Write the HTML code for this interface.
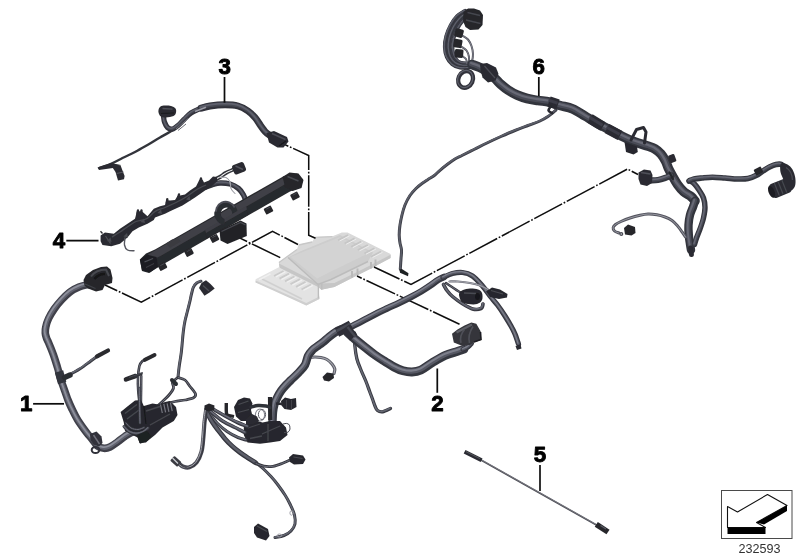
<!DOCTYPE html>
<html><head><meta charset="utf-8"><title>Wiring harness</title>
<style>
html,body{margin:0;padding:0;background:#fff;}
body{width:800px;height:560px;overflow:hidden;font-family:"Liberation Sans",sans-serif;}
svg{display:block;}
</style></head><body>
<svg width="800" height="560" viewBox="0 0 800 560">
<defs><filter id="soft" x="-5%" y="-5%" width="110%" height="110%"><feGaussianBlur stdDeviation="0.45"/></filter><filter id="soft2" x="-5%" y="-5%" width="110%" height="110%"><feGaussianBlur stdDeviation="0.3"/></filter></defs>
<rect width="800" height="560" fill="#fff"/>
<g id="ecu" filter="url(#soft)">
<path d="M255.6 279.2 L266.7 273.6 L278.8 267.3 L318.5 286.5 L319.4 299 L306.3 305.6 L287.5 296.3 L272.5 288.8 L255.6 282.5Z" fill="#e3e3e3"/>
<path d="M255.6 280.5 L306.3 303 L319.4 296.5 L319.4 299 L306.3 305.6 L255.6 282.5Z" fill="#cfcfcf"/>
<path d="M278.8 262.2 L297 249.3 L298.6 244.7 L312.2 241.7 L315.3 237.1 L332.5 236.3 L341.9 232.5 L347.5 232.5 L390.6 254 L390.6 258 L370 269 L355 276.6 L334.4 286.9 L321.3 289.7 L318.3 287 L279.6 267.8Z" fill="#d9d9d9"/>
<path d="M279 263.5 L318.3 283.5 L334.4 283 L355 273 L370 265.5 L390.6 254.8 L390.6 258 L370 269 L355 276.6 L334.4 286.9 L321.3 289.7 L318.3 287 L279.6 267.8Z" fill="#c6c6c6"/>
<path d="M288 257.6 L300 251.5 L340 235 L373 252.5 L368 261.5 L331 279.5 L318 284.5Z" fill="#cdcdcd"/>
<path d="M290.5 257 L340 237 L370 252.6 L330 272 L317 278.5Z" fill="#d3d3d3"/>
<path d="M288 257.600 L318 284.500 L331 279.500 L368 261.500" stroke="#bcbcbc" stroke-width="1.4" fill="none"/>
<path d="M283.5 271 l-9.500 5" stroke="#cbcbcb" stroke-width="1.9" fill="none"/>
<path d="M285.4 271.9 l-9.500 5" stroke="#f0f0f0" stroke-width="1.2" fill="none"/>
<path d="M289 273.7 l-9.500 5" stroke="#cbcbcb" stroke-width="1.9" fill="none"/>
<path d="M290.9 274.6 l-9.500 5" stroke="#f0f0f0" stroke-width="1.2" fill="none"/>
<path d="M294.5 276.4 l-9.500 5" stroke="#cbcbcb" stroke-width="1.9" fill="none"/>
<path d="M296.4 277.3 l-9.500 5" stroke="#f0f0f0" stroke-width="1.2" fill="none"/>
<path d="M300 279.1 l-9.500 5" stroke="#cbcbcb" stroke-width="1.9" fill="none"/>
<path d="M301.9 280.1 l-9.500 5" stroke="#f0f0f0" stroke-width="1.2" fill="none"/>
<path d="M305.5 281.8 l-9.500 5" stroke="#cbcbcb" stroke-width="1.9" fill="none"/>
<path d="M307.4 282.8 l-9.500 5" stroke="#f0f0f0" stroke-width="1.2" fill="none"/>
<path d="M311 284.5 l-9.500 5" stroke="#cbcbcb" stroke-width="1.9" fill="none"/>
<path d="M312.9 285.4 l-9.500 5" stroke="#f0f0f0" stroke-width="1.2" fill="none"/>
<path d="M262 279 L302 299" stroke="#d0d0d0" stroke-width="1.500" fill="none"/>
<path d="M259 279.800 L270.500 273.800" stroke="#f0f0f0" stroke-width="1.500" fill="none"/>
<path d="M348 235 l-10 5.200" stroke="#c6c6c6" stroke-width="1.7" fill="none"/>
<path d="M349.6 235.8 l-10 5.200" stroke="#ececec" stroke-width="1" fill="none"/>
<path d="M354.6 238.3 l-10 5.200" stroke="#c6c6c6" stroke-width="1.7" fill="none"/>
<path d="M356.2 239.1 l-10 5.200" stroke="#ececec" stroke-width="1" fill="none"/>
<path d="M361.2 241.6 l-10 5.200" stroke="#c6c6c6" stroke-width="1.7" fill="none"/>
<path d="M362.8 242.4 l-10 5.200" stroke="#ececec" stroke-width="1" fill="none"/>
<path d="M367.8 244.9 l-10 5.200" stroke="#c6c6c6" stroke-width="1.7" fill="none"/>
<path d="M369.4 245.7 l-10 5.200" stroke="#ececec" stroke-width="1" fill="none"/>
<path d="M374.4 248.2 l-10 5.200" stroke="#c6c6c6" stroke-width="1.7" fill="none"/>
<path d="M376 249 l-10 5.200" stroke="#ececec" stroke-width="1" fill="none"/>
<path d="M381 251.5 l-10 5.200" stroke="#c6c6c6" stroke-width="1.7" fill="none"/>
<path d="M382.6 252.3 l-10 5.200" stroke="#ececec" stroke-width="1" fill="none"/>
<path d="M279 262.500 L297 249.500 M298.600 245 L312.200 242 M315.300 237.400 L332.500 236.600" stroke="#c8c8c8" stroke-width="1.3" fill="none"/>
<path d="M352 271 L352 277.500 M357.500 268.500 L357.500 275 M371 262 L371 268.500 M375.500 259.500 L375.500 266" stroke="#b9b9b9" stroke-width="1.900" fill="none"/>
<path d="M318.400 283.500 L318.400 298.500 M321.800 283 L321.800 289.500" stroke="#bdbdbd" stroke-width="1.400" fill="none"/>
</g>
<g id="dash" filter="url(#soft2)">
<path d="M284.4 144.4 L308.7 155.6 L308.7 235.2 L315.5 238.2" fill="none" stroke="#0c0c0c" stroke-width="1.5" stroke-dasharray="31.5 1.8 1.7 1.8" stroke-dashoffset="27.2" stroke-linejoin="miter"/>
<path d="M236.3 236.3 L281 258" fill="none" stroke="#0c0c0c" stroke-width="1.5" stroke-dasharray="31.5 1.8 1.7 1.8" stroke-dashoffset="19.5" stroke-linejoin="miter"/>
<path d="M105 285 L141.3 302.2 L272.5 231.3 L298 244.5" fill="none" stroke="#0c0c0c" stroke-width="1.5" stroke-dasharray="31.5 1.8 1.7 1.8" stroke-dashoffset="18" stroke-linejoin="miter"/>
<path d="M374 267 L411 284.4 L627.5 169 L638 174.5" fill="none" stroke="#0c0c0c" stroke-width="1.5" stroke-dasharray="31.5 1.8 1.7 1.8" stroke-dashoffset="3.4" stroke-linejoin="miter"/>
<path d="M357 276 L459.5 324.2" fill="none" stroke="#0c0c0c" stroke-width="1.5" stroke-dasharray="31.5 1.8 1.7 1.8" stroke-dashoffset="26.3" stroke-linejoin="miter"/>
</g>
<g id="h3" filter="url(#soft)">
<path d="M172.5 130.5 C170.4 131.7 164.2 135.1 160 137.5 C155.8 139.9 151.7 142.6 147.5 145 C143.3 147.4 139.2 149.8 135 152 C130.8 154.2 126.5 156 122.5 158 C118.5 160 114.8 162.1 111 163.8 C107.2 165.5 101.4 167.3 99.5 168" fill="none" stroke="#33343b" stroke-width="2.4" stroke-linecap="round" stroke-linejoin="round"/>
<path d="M97.5 167.5 L111 163 L121 165 L113 168 L99 170Z" fill="#2b2c31"/>
<path d="M111.5 166 L120.5 165.3 L124.6 176 L124 179.2 L118 180.6 L115.5 172Z" fill="#2b2c31"/>
<path d="M116.5 173.500 L123.500 172" stroke="#5a5b64" stroke-width="0.9"/>
<path d="M163.5 116 C163.7 117 163.8 120.1 164.5 122 C165.2 123.9 166.2 126.3 167.5 127.5 C168.8 128.7 170.8 129.3 172.5 129 C174.2 128.7 176.1 127.1 178 125.5 C179.9 123.9 181.8 121.6 184 119.5 C186.2 117.4 188.3 114.8 191 113 C193.7 111.2 197.8 109.5 200 108.5 C202.2 107.5 203.3 107.5 204 107.3" fill="none" stroke="#30313a" stroke-width="5.2" stroke-linecap="round" stroke-linejoin="round"/>
<path d="M163.5 116 C163.7 117 163.8 120.1 164.5 122 C165.2 123.9 166.2 126.3 167.5 127.5 C168.8 128.7 170.8 129.3 172.5 129 C174.2 128.7 176.1 127.1 178 125.5 C179.9 123.9 181.8 121.6 184 119.5 C186.2 117.4 188.3 114.8 191 113 C193.7 111.2 197.8 109.5 200 108.5 C202.2 107.5 203.3 107.5 204 107.3" fill="none" stroke="#454751" stroke-width="2.9" stroke-linecap="round" stroke-linejoin="round" transform="translate(-0.2,-0.4)"/>
<path d="M163.5 116 C163.7 117 163.8 120.1 164.5 122 C165.2 123.9 166.2 126.3 167.5 127.5 C168.8 128.7 170.8 129.3 172.5 129 C174.2 128.7 176.1 127.1 178 125.5 C179.9 123.9 181.8 121.6 184 119.5 C186.2 117.4 188.3 114.8 191 113 C193.7 111.2 197.8 109.5 200 108.5 C202.2 107.5 203.3 107.5 204 107.3" fill="none" stroke="#5f616d" stroke-width="1.2" stroke-linecap="round" stroke-linejoin="round" transform="translate(-0.5,-0.8)"/>
<path d="M201 108.2 C202.5 107.8 206 106.6 210 106 C214 105.4 220.3 104.8 225 104.8 C229.7 104.8 234.2 105 238 106 C241.8 107 245.2 109.1 248 111 C250.8 112.9 252.9 115.1 255 117.5 C257.1 119.9 258.8 123.1 260.5 125.5 C262.2 127.9 263.9 130.3 265.5 132 C267.1 133.7 269.2 134.9 270 135.5" fill="none" stroke="#30313a" stroke-width="6.9" stroke-linecap="round" stroke-linejoin="round"/>
<path d="M201 108.2 C202.5 107.8 206 106.6 210 106 C214 105.4 220.3 104.8 225 104.8 C229.7 104.8 234.2 105 238 106 C241.8 107 245.2 109.1 248 111 C250.8 112.9 252.9 115.1 255 117.5 C257.1 119.9 258.8 123.1 260.5 125.5 C262.2 127.9 263.9 130.3 265.5 132 C267.1 133.7 269.2 134.9 270 135.5" fill="none" stroke="#454751" stroke-width="3.9" stroke-linecap="round" stroke-linejoin="round" transform="translate(-0.3,-0.6)"/>
<path d="M201 108.2 C202.5 107.8 206 106.6 210 106 C214 105.4 220.3 104.8 225 104.8 C229.7 104.8 234.2 105 238 106 C241.8 107 245.2 109.1 248 111 C250.8 112.9 252.9 115.1 255 117.5 C257.1 119.9 258.8 123.1 260.5 125.5 C262.2 127.9 263.9 130.3 265.5 132 C267.1 133.7 269.2 134.9 270 135.5" fill="none" stroke="#5f616d" stroke-width="1.7" stroke-linecap="round" stroke-linejoin="round" transform="translate(-0.7,-1.1)"/>
<path d="M195 111.500 L206 107.2" stroke="#9a9ba5" stroke-width="1.5" fill="none"/>
<path d="M176 129 L188 118.500" stroke="#7a7b85" stroke-width="0.9" fill="none"/>
<path d="M178 130.500 L186 124" stroke="#5c5d66" stroke-width="0.9" fill="none"/>
<path d="M158.5 110 C158.8 108.8 159.4 107.2 160.5 106.5 C161.6 105.8 163.2 105.6 165 105.5 C166.8 105.4 169.2 105.5 171 106 C172.8 106.5 174.7 107.4 175.5 108.5 C176.3 109.6 176.3 111.2 176 112.5 C175.7 113.8 175.2 115.2 173.5 116 C171.8 116.8 168.1 117.4 166 117.5 C163.9 117.6 162.2 117.2 161 116.5 C159.8 115.8 159.2 114.6 158.8 113.5 C158.4 112.4 158.2 111.2 158.5 110Z" fill="#2a2b30"/>
<path d="M162.500 108.500 L172.500 109.200" stroke="#4f5059" stroke-width="1.3"/>
<path d="M161 113.500 L174 113" stroke="#1b1c20" stroke-width="1.2"/>
<path d="M266.5 133 L274 131 L287 137 L288.5 141.5 L283.5 147.5 L277.5 147.5 L269 142.5Z" fill="#2b2c32"/>
<path d="M272 133.500 L285.500 139.500" stroke="#4d4e57" stroke-width="1.4"/>
<path d="M279 146 L286 141" stroke="#17181b" stroke-width="1.4"/>
</g>
<g id="h4" filter="url(#soft)">
<path d="M233 168.5 C231.7 169.1 227.2 170.8 225 172 C222.8 173.2 221.8 174.4 220 175.5 C218.2 176.6 215 178 214 178.5" fill="none" stroke="#33343a" stroke-width="1.5" stroke-linecap="round" stroke-linejoin="round"/>
<path d="M234 170.5 C232.8 171.1 228.6 172.8 226.5 174 C224.4 175.2 223.2 176.4 221.5 177.5 C219.8 178.6 216.9 180 216 180.5" fill="none" stroke="#33343a" stroke-width="1.5" stroke-linecap="round" stroke-linejoin="round"/>
<rect x="232.8" y="163.3" width="12.5" height="10" rx="2.4" fill="#2a2b30" transform="rotate(-22 239 168.3)"/>
<path d="M235.500 166 L243 169.500" stroke="#52535c" stroke-width="1.4"/>
<path d="M206 187 C207.2 186.6 210.7 185.2 213 184.5 C215.3 183.8 217.2 183.1 220 183 C222.8 182.9 226.9 183.1 230 184 C233.1 184.9 236.2 186.7 238.5 188.5 C240.8 190.3 242.2 192.8 243.5 195 C244.8 197.2 245.8 200.8 246.3 202" fill="none" stroke="#30313a" stroke-width="5.4" stroke-linecap="round" stroke-linejoin="round"/>
<path d="M206 187 C207.2 186.6 210.7 185.2 213 184.5 C215.3 183.8 217.2 183.1 220 183 C222.8 182.9 226.9 183.1 230 184 C233.1 184.9 236.2 186.7 238.5 188.5 C240.8 190.3 242.2 192.8 243.5 195 C244.8 197.2 245.8 200.8 246.3 202" fill="none" stroke="#454751" stroke-width="3" stroke-linecap="round" stroke-linejoin="round" transform="translate(-0.3,-0.4)"/>
<path d="M206 187 C207.2 186.6 210.7 185.2 213 184.5 C215.3 183.8 217.2 183.1 220 183 C222.8 182.9 226.9 183.1 230 184 C233.1 184.9 236.2 186.7 238.5 188.5 C240.8 190.3 242.2 192.8 243.5 195 C244.8 197.2 245.8 200.8 246.3 202" fill="none" stroke="#5f616d" stroke-width="1.3" stroke-linecap="round" stroke-linejoin="round" transform="translate(-0.5,-0.9)"/>
<path d="M220 177.5 C221 177.5 224.3 176.8 226 177.5 C227.7 178.2 229.2 180.2 230 182 C230.8 183.8 230.2 186.6 231 188.5 C231.8 190.4 234.3 192.7 235 193.5" fill="none" stroke="#c9cad0" stroke-width="1.1" stroke-linecap="round" stroke-linejoin="round"/>
<path d="M220 177.5 C221 177.5 224.3 176.8 226 177.5 C227.7 178.2 229.2 180.2 230 182 C230.8 183.8 230.2 186.6 231 188.5 C231.8 190.4 234.3 192.7 235 193.5" fill="none" stroke="#6d6e77" stroke-width="0.5" stroke-linecap="round" stroke-linejoin="round"/>
<path d="M100.6 235.6 L105 232.5 L113.8 233.8 L120 228.8 L127.5 223.8 L135 218.8 L136.9 211.3 L141.9 211.3 L147.5 216.3 L153.8 208.8 L160 206.3 L165 205 L166.3 200 L170 200.6 L175 200 L177.5 196 L185 194.5 L190 190.5 L196 186.5 L199.5 179.5 L202.5 179.5 L204 182.5 L209 180.5 L213 176.5 L217 177 L217.5 181 L212 186 L205 190.5 L195 197.5 L182.5 205.5 L170 211.3 L165 213.8 L155 217.5 L153.8 220 L147.5 223.8 L138.8 227.5 L132.5 231.3 L127.5 237.5 L120 243.8 L111.3 246.3 L102.5 245 L100.6 241.3Z" fill="#2b2c31"/>
<path d="M112 237 C113.3 236.2 117.3 233.8 120 232 C122.7 230.2 125.3 228.2 128 226.5 C130.7 224.8 132.8 222.8 136 221.5 C139.2 220.2 143.8 220.2 147 218.5 C150.2 216.8 152 213.3 155 211.5 C158 209.7 161.5 209 165 207.5 C168.5 206 172.5 204.2 176 202.5 C179.5 200.8 182.7 199.1 186 197 C189.3 194.9 192.7 192 196 190 C199.3 188 204.3 185.8 206 185" fill="none" stroke="#494a52" stroke-width="1.3" stroke-linecap="butt" stroke-linejoin="round"/>
<path d="M105.500 236 L110.500 243.500" stroke="#4e4f57" stroke-width="1.1"/>
<path d="M102.500 233.500 L100.500 231.200" stroke="#2b2c31" stroke-width="1.3"/>
<path d="M137.5 214 L138 210.5" stroke="#2b2c31" stroke-width="2.4" stroke-linecap="round"/>
<path d="M141 214 L141.5 210.5" stroke="#2b2c31" stroke-width="2.4" stroke-linecap="round"/>
<path d="M166.8 203 L167.3 199.2" stroke="#2b2c31" stroke-width="2.4" stroke-linecap="round"/>
<path d="M178 198 L179 194.5" stroke="#2b2c31" stroke-width="2.4" stroke-linecap="round"/>
<path d="M200.5 183 L201 178.5" stroke="#2b2c31" stroke-width="2.4" stroke-linecap="round"/>
<path d="M107 241 l3.500 -3.500 l1 4.500 z" fill="#484951"/>
<path d="M123.5 236.5 l3.500 -3.500 l1 4.500 z" fill="#484951"/>
<path d="M140.5 222 l3.500 -3.500 l1 4.500 z" fill="#484951"/>
<path d="M157.5 213 l3.500 -3.500 l1 4.500 z" fill="#484951"/>
<path d="M186 199.5 l3.500 -3.500 l1 4.500 z" fill="#484951"/>
<path d="M125 238 C124.9 239.2 124.1 243 124.5 245 C124.9 247 125.9 249 127.5 250 C129.1 251 132.9 250.7 134 250.8" fill="none" stroke="#55565f" stroke-width="1.4" stroke-linecap="round" stroke-linejoin="round"/>
<path d="M139.8 259.5 L146 253.5 L155 249.5 L284 176 L297 173.5 L303 179.5 L301 187.5 L290 191.5 L161 265.5 L149 273 L142 271Z" fill="#28292d"/>
<path d="M148 254.5 L156 250 L284 177.5 L294 179 L160 256.2 L152 260Z" fill="#404147"/>
<path d="M140 260 L146.5 254.5 L156.5 257 L158 266.5 L150 272.5 L142 270.5Z" fill="#1e1f23"/>
<path d="M144.500 262 L153 258.500" stroke="#50515a" stroke-width="1.3"/>
<path d="M146 267.500 L154 263.500" stroke="#3d3e45" stroke-width="1"/>
<path d="M166 243.5 L172 239.5 L178.5 238.5 L181 241.5 L170 248Z" fill="#3a3b41"/>
<path d="M282.5 177 L289.5 172.5 L298.5 173.5 L303.5 180 L301.5 188 L292.5 191 L285 186.5Z" fill="#25262a"/>
<path d="M287.500 176.500 L298.500 181" stroke="#4a4b52" stroke-width="1.4"/>
<rect x="158.5" y="263.2" width="8" height="6.5" rx="1" fill="#26272b" transform="rotate(-28 162.5 266.5)"/>
<path d="M160.3 265.7 l4 -2.200" stroke="#4a4b52" stroke-width="0.9"/>
<rect x="185" y="249.2" width="8" height="6.5" rx="1" fill="#26272b" transform="rotate(-28 189 252.5)"/>
<path d="M186.8 251.7 l4 -2.200" stroke="#4a4b52" stroke-width="0.9"/>
<rect x="210.5" y="235.2" width="8" height="6.5" rx="1" fill="#26272b" transform="rotate(-28 214.5 238.5)"/>
<path d="M212.3 237.7 l4 -2.200" stroke="#4a4b52" stroke-width="0.9"/>
<rect x="264.5" y="206.8" width="8" height="6.5" rx="1" fill="#26272b" transform="rotate(-28 268.5 210)"/>
<path d="M266.3 209.2 l4 -2.200" stroke="#4a4b52" stroke-width="0.9"/>
<rect x="291" y="192.8" width="8" height="6.5" rx="1" fill="#26272b" transform="rotate(-28 295 196)"/>
<path d="M292.8 195.2 l4 -2.200" stroke="#4a4b52" stroke-width="0.9"/>
<ellipse cx="226.5" cy="213.5" rx="8.500" ry="8.800" fill="none" stroke="#2c2d33" stroke-width="5.6"/>
<path d="M216.800 215.500 A9.500 9.500 0 0 1 234.500 207.500" fill="none" stroke="#4c4d56" stroke-width="1.8"/>
<path d="M205 231.5 L246 208 L248 215 L207 238.5Z" fill="#28292d"/>
<path d="M205 229.5 L246 206 L247 209.5 L206 233Z" fill="#3d3e44"/>
<path d="M217.200 212 A8.500 8.800 0 0 0 224.500 222.200" fill="none" stroke="#2c2d33" stroke-width="5.6"/>
<path d="M219.5 230.5 L240.5 220.5 L246.5 223.5 L246.8 236 L227.5 244 L220.5 240.5Z" fill="#232428"/>
<path d="M221.500 231.500 L240.500 222.500 L245.500 225" stroke="#47484f" stroke-width="1.3" fill="none"/>
</g>
<g id="h1" filter="url(#soft)">
<path d="M201 281.2 C200.2 281.5 197.8 282.1 196.5 283.2 C195.2 284.2 194.1 285.7 193.3 287.5 C192.5 289.3 192.1 291.8 191.5 294 C190.9 296.2 190.7 298.2 190 301 C189.3 303.8 188.3 307.7 187.5 311 C186.7 314.3 185.7 317.7 185 321 C184.3 324.3 183.8 327.8 183.4 331 C183 334.2 182.8 336.4 182.5 340 C182.2 343.6 181.8 348.3 181.3 352.5 C180.8 356.7 180 360.8 179.4 365 C178.8 369.2 178.2 375.4 178 377.5" fill="none" stroke="#34353d" stroke-width="3" stroke-linecap="round" stroke-linejoin="round"/>
<path d="M201 281.2 C200.2 281.5 197.8 282.1 196.5 283.2 C195.2 284.2 194.1 285.7 193.3 287.5 C192.5 289.3 192.1 291.8 191.5 294 C190.9 296.2 190.7 298.2 190 301 C189.3 303.8 188.3 307.7 187.5 311 C186.7 314.3 185.7 317.7 185 321 C184.3 324.3 183.8 327.8 183.4 331 C183 334.2 182.8 336.4 182.5 340 C182.2 343.6 181.8 348.3 181.3 352.5 C180.8 356.7 180 360.8 179.4 365 C178.8 369.2 178.2 375.4 178 377.5" fill="none" stroke="#565863" stroke-width="1.7" stroke-linecap="round" stroke-linejoin="round" transform="translate(-0.1,-0.2)"/>
<path d="M201 281.2 C200.2 281.5 197.8 282.1 196.5 283.2 C195.2 284.2 194.1 285.7 193.3 287.5 C192.5 289.3 192.1 291.8 191.5 294 C190.9 296.2 190.7 298.2 190 301 C189.3 303.8 188.3 307.7 187.5 311 C186.7 314.3 185.7 317.7 185 321 C184.3 324.3 183.8 327.8 183.4 331 C183 334.2 182.8 336.4 182.5 340 C182.2 343.6 181.8 348.3 181.3 352.5 C180.8 356.7 180 360.8 179.4 365 C178.8 369.2 178.2 375.4 178 377.5" fill="none" stroke="#70727e" stroke-width="0.7" stroke-linecap="round" stroke-linejoin="round" transform="translate(-0.3,-0.5)"/>
<path d="M199 288 L201.5 283 L206 280.3 L210.5 284 L214.7 288.5 L209.5 292.5 L204.5 295.7Z" fill="#2b2c31"/>
<path d="M203 285.500 L209 291" stroke="#4e4f58" stroke-width="1.1"/>
<path d="M178 377.5 C179.2 377.9 183 378.5 185 380 C187 381.5 188.2 384.2 190 386.5 C191.8 388.8 194.9 392.1 195.5 394 C196.1 395.9 195.2 396.8 193.5 397.8 C191.8 398.8 188.1 399.4 185 400 C181.9 400.6 177.8 400.9 175 401.5 C172.2 402.1 169.2 403.2 168 403.5" fill="none" stroke="#34353d" stroke-width="2.8" stroke-linecap="round" stroke-linejoin="round"/>
<path d="M178 377.5 C179.2 377.9 183 378.5 185 380 C187 381.5 188.2 384.2 190 386.5 C191.8 388.8 194.9 392.1 195.5 394 C196.1 395.9 195.2 396.8 193.5 397.8 C191.8 398.8 188.1 399.4 185 400 C181.9 400.6 177.8 400.9 175 401.5 C172.2 402.1 169.2 403.2 168 403.5" fill="none" stroke="#70727e" stroke-width="1" stroke-linecap="round" stroke-linejoin="round"/>
<path d="M176.5 378.5 C175.8 379.2 173 380.9 172.5 382.5 C172 384.1 174.1 385.9 173.5 388 C172.9 390.1 170.8 392.8 169 395 C167.2 397.2 164.5 399.6 162.5 401.5 C160.5 403.4 157.9 405.7 157 406.5" fill="none" stroke="#34353d" stroke-width="2.8" stroke-linecap="round" stroke-linejoin="round"/>
<path d="M176.5 378.5 C175.8 379.2 173 380.9 172.5 382.5 C172 384.1 174.1 385.9 173.5 388 C172.9 390.1 170.8 392.8 169 395 C167.2 397.2 164.5 399.6 162.5 401.5 C160.5 403.4 157.9 405.7 157 406.5" fill="none" stroke="#70727e" stroke-width="1" stroke-linecap="round" stroke-linejoin="round"/>
<path d="M172 380 L176 384" fill="none" stroke="#2c2d33" stroke-width="4" stroke-linecap="round" stroke-linejoin="round"/>
<path d="M139.5 403 C139.3 400.8 138.4 394.2 138.2 390 C137.9 385.8 137.8 381.5 138 377.5 C138.2 373.5 138.7 368.8 139.4 366 C140.2 363.2 141.2 362.2 142.5 361 C143.8 359.8 146.2 358.9 147 358.5" fill="none" stroke="#34353d" stroke-width="2.6" stroke-linecap="round" stroke-linejoin="round"/>
<path d="M139.5 403 C139.3 400.8 138.4 394.2 138.2 390 C137.9 385.8 137.8 381.5 138 377.5 C138.2 373.5 138.7 368.8 139.4 366 C140.2 363.2 141.2 362.2 142.5 361 C143.8 359.8 146.2 358.9 147 358.5" fill="none" stroke="#70727e" stroke-width="0.9" stroke-linecap="round" stroke-linejoin="round"/>
<path d="M145 359.8 L154.5 355" fill="none" stroke="#292a2f" stroke-width="4" stroke-linecap="round" stroke-linejoin="round"/>
<path d="M141.3 420 C141.2 417.2 141 408.3 141 403 C141 397.7 141.1 392.5 141.2 388 C141.2 383.5 141.3 378 141.3 376" fill="none" stroke="#34353d" stroke-width="2.4" stroke-linecap="round" stroke-linejoin="round"/>
<path d="M141.3 420 C141.2 417.2 141 408.3 141 403 C141 397.7 141.1 392.5 141.2 388 C141.2 383.5 141.3 378 141.3 376" fill="none" stroke="#70727e" stroke-width="0.9" stroke-linecap="round" stroke-linejoin="round"/>
<path d="M126 379.4 L135.5 376" fill="none" stroke="#292a2f" stroke-width="4.6" stroke-linecap="round" stroke-linejoin="round"/>
<path d="M135 376.2 L141.5 373.8" fill="none" stroke="#33343b" stroke-width="2.6" stroke-linecap="round" stroke-linejoin="round"/>
<path d="M129 377.500 L143 372.500" stroke="#4a4b53" stroke-width="0.9"/>
<path d="M88 284.5 C86.5 284.9 82 285.8 79 287 C76 288.2 72.9 289.8 70 292 C67.1 294.2 64.1 297.2 61.5 300 C58.9 302.8 56.4 305.9 54.2 309 C52.1 312.1 50 315.5 48.6 318.5 C47.2 321.5 46.3 324.6 45.8 327 C45.2 329.4 45.2 331.2 45.3 333 C45.4 334.8 46 336.4 46.5 338 C47 339.6 47.3 339.7 48.5 342.5 C49.7 345.3 52 350.8 53.5 355 C55 359.2 56.2 363.3 57.5 367.5 C58.8 371.7 59.8 376.1 61 380 C62.2 383.9 63.6 387.7 64.8 391 C66 394.3 66.9 397.2 68 400 C69.1 402.8 69.9 404.7 71.5 408 C73.1 411.3 75.2 415.9 77.7 420 C80.2 424.1 84.1 429.3 86.5 432.5 C88.9 435.7 90.2 436.8 92 439 C93.8 441.2 95.5 444.4 97.5 446 C99.5 447.6 101.7 448.1 103.8 448.3 C105.9 448.5 107.7 448.1 110 447 C112.3 445.9 115 443.8 117.5 442 C120 440.2 122.8 437.8 125 436.3 C127.2 434.8 128.8 433.7 131 432.8 C133.2 431.9 135.7 431.3 138 431 C140.3 430.7 143.8 431 145 431" fill="none" stroke="#3f404a" stroke-width="7.6" stroke-linecap="round" stroke-linejoin="round"/>
<path d="M88 284.5 C86.5 284.9 82 285.8 79 287 C76 288.2 72.9 289.8 70 292 C67.1 294.2 64.1 297.2 61.5 300 C58.9 302.8 56.4 305.9 54.2 309 C52.1 312.1 50 315.5 48.6 318.5 C47.2 321.5 46.3 324.6 45.8 327 C45.2 329.4 45.2 331.2 45.3 333 C45.4 334.8 46 336.4 46.5 338 C47 339.6 47.3 339.7 48.5 342.5 C49.7 345.3 52 350.8 53.5 355 C55 359.2 56.2 363.3 57.5 367.5 C58.8 371.7 59.8 376.1 61 380 C62.2 383.9 63.6 387.7 64.8 391 C66 394.3 66.9 397.2 68 400 C69.1 402.8 69.9 404.7 71.5 408 C73.1 411.3 75.2 415.9 77.7 420 C80.2 424.1 84.1 429.3 86.5 432.5 C88.9 435.7 90.2 436.8 92 439 C93.8 441.2 95.5 444.4 97.5 446 C99.5 447.6 101.7 448.1 103.8 448.3 C105.9 448.5 107.7 448.1 110 447 C112.3 445.9 115 443.8 117.5 442 C120 440.2 122.8 437.8 125 436.3 C127.2 434.8 128.8 433.7 131 432.8 C133.2 431.9 135.7 431.3 138 431 C140.3 430.7 143.8 431 145 431" fill="none" stroke="#60626e" stroke-width="4.3" stroke-linecap="round" stroke-linejoin="round" transform="translate(-0.4,-0.6)"/>
<path d="M88 284.5 C86.5 284.9 82 285.8 79 287 C76 288.2 72.9 289.8 70 292 C67.1 294.2 64.1 297.2 61.5 300 C58.9 302.8 56.4 305.9 54.2 309 C52.1 312.1 50 315.5 48.6 318.5 C47.2 321.5 46.3 324.6 45.8 327 C45.2 329.4 45.2 331.2 45.3 333 C45.4 334.8 46 336.4 46.5 338 C47 339.6 47.3 339.7 48.5 342.5 C49.7 345.3 52 350.8 53.5 355 C55 359.2 56.2 363.3 57.5 367.5 C58.8 371.7 59.8 376.1 61 380 C62.2 383.9 63.6 387.7 64.8 391 C66 394.3 66.9 397.2 68 400 C69.1 402.8 69.9 404.7 71.5 408 C73.1 411.3 75.2 415.9 77.7 420 C80.2 424.1 84.1 429.3 86.5 432.5 C88.9 435.7 90.2 436.8 92 439 C93.8 441.2 95.5 444.4 97.5 446 C99.5 447.6 101.7 448.1 103.8 448.3 C105.9 448.5 107.7 448.1 110 447 C112.3 445.9 115 443.8 117.5 442 C120 440.2 122.8 437.8 125 436.3 C127.2 434.8 128.8 433.7 131 432.8 C133.2 431.9 135.7 431.3 138 431 C140.3 430.7 143.8 431 145 431" fill="none" stroke="#8d8f9b" stroke-width="1.8" stroke-linecap="round" stroke-linejoin="round" transform="translate(-0.7,-1.2)"/>
<path d="M59 371.5 L62.2 383" fill="none" stroke="#33343c" stroke-width="8.6" stroke-linecap="butt" stroke-linejoin="round"/>
<path d="M66 377 C66.9 376.5 69 375.2 71.3 373.8 C73.6 372.4 77.1 370.7 80 368.8 C82.9 366.9 86.1 364.5 88.8 362.5 C91.5 360.5 94.4 358.3 96.3 357 C98.2 355.7 99.4 354.9 100 354.5" fill="none" stroke="#34353d" stroke-width="3" stroke-linecap="round" stroke-linejoin="round"/>
<path d="M66 377 C66.9 376.5 69 375.2 71.3 373.8 C73.6 372.4 77.1 370.7 80 368.8 C82.9 366.9 86.1 364.5 88.8 362.5 C91.5 360.5 94.4 358.3 96.3 357 C98.2 355.7 99.4 354.9 100 354.5" fill="none" stroke="#565863" stroke-width="1.7" stroke-linecap="round" stroke-linejoin="round" transform="translate(-0.1,-0.2)"/>
<path d="M66 377 C66.9 376.5 69 375.2 71.3 373.8 C73.6 372.4 77.1 370.7 80 368.8 C82.9 366.9 86.1 364.5 88.8 362.5 C91.5 360.5 94.4 358.3 96.3 357 C98.2 355.7 99.4 354.9 100 354.5" fill="none" stroke="#70727e" stroke-width="0.7" stroke-linecap="round" stroke-linejoin="round" transform="translate(-0.3,-0.5)"/>
<path d="M97 356.3 L108 350.5" fill="none" stroke="#292a2f" stroke-width="4.2" stroke-linecap="round" stroke-linejoin="round"/>
<path d="M64.5 377.5 L70 375" fill="none" stroke="#2c2d33" stroke-width="5.4" stroke-linecap="round" stroke-linejoin="round"/>
<path d="M90 434 L96.5 431.5 L101.5 436.5 L102.5 443 L99 446.5 L93.5 444.5 L90.5 440Z" fill="#30313a"/>
<ellipse cx="95.500" cy="450" rx="3.800" ry="3" fill="none" stroke="#30313a" stroke-width="2"/>
<path d="M93.500 435 L99.500 444" stroke="#6f707a" stroke-width="1.5"/>
<path d="M83.5 280 L86 275 L93 270 L101 267 L107 266.5 L110.5 269.5 L112.5 278 L112 283 L105 285 L102.5 290 L96 291.5 L88 288.5 L84.5 285.5Z" fill="#26272c"/>
<path d="M91 276.500 Q96 269.500 106 269.500 L109 276" fill="none" stroke="#47484f" stroke-width="2"/>
<path d="M94.5 279 Q99 273.500 105 274" fill="none" stroke="#141518" stroke-width="2.6"/>
<path d="M85 284 L95.500 288.500" stroke="#3f4047" stroke-width="1.2"/>
<path d="M120.6 412 L128 406 L135 400.6 L141 400 L143.8 406 L152.5 403.5 L158.8 404.5 L165 402 L170 401 L176 407 L177.5 415 L173.8 421 L162.5 427.5 L155 435 L147.5 441 L140 443.8 L137.5 437.5 L125 431 L123.8 422.5Z" fill="#27282d"/>
<path d="M125 413.500 L137 404.500 M127 419 L139 410 M146 411 L160 406.500 M150 425 L170 414" stroke="#45464e" stroke-width="1.4" fill="none"/>
<path d="M143.800 406 L146 424" stroke="#17181b" stroke-width="1.2" fill="none"/>
<path d="M124 426.5 C124.8 427.3 127 430.3 129 431.5 C131 432.7 133.7 433.4 136 433.5 C138.3 433.6 141 432.9 143 432 C145 431.1 147.2 428.7 148 428" fill="none" stroke="#34353d" stroke-width="3" stroke-linecap="round" stroke-linejoin="round"/>
<path d="M124 426.5 C124.8 427.3 127 430.3 129 431.5 C131 432.7 133.7 433.4 136 433.5 C138.3 433.6 141 432.9 143 432 C145 431.1 147.2 428.7 148 428" fill="none" stroke="#565863" stroke-width="1.7" stroke-linecap="round" stroke-linejoin="round" transform="translate(-0.1,-0.2)"/>
<path d="M124 426.5 C124.8 427.3 127 430.3 129 431.5 C131 432.7 133.7 433.4 136 433.5 C138.3 433.6 141 432.9 143 432 C145 431.1 147.2 428.7 148 428" fill="none" stroke="#70727e" stroke-width="0.7" stroke-linecap="round" stroke-linejoin="round" transform="translate(-0.3,-0.5)"/>
<path d="M126 423 C126.8 423.8 129 426.9 131 428 C133 429.1 135.8 429.6 138 429.5 C140.2 429.4 143 427.8 144 427.5" fill="none" stroke="#34353d" stroke-width="2.4" stroke-linecap="round" stroke-linejoin="round"/>
<path d="M126 423 C126.8 423.8 129 426.9 131 428 C133 429.1 135.8 429.6 138 429.5 C140.2 429.4 143 427.8 144 427.5" fill="none" stroke="#70727e" stroke-width="0.9" stroke-linecap="round" stroke-linejoin="round"/>
<path d="M160.5 404.5 l1.800 8.500" stroke="#767782" stroke-width="1.2"/>
<path d="M163.8 403.9 l1.800 8.500" stroke="#767782" stroke-width="1.2"/>
<path d="M167.1 403.3 l1.800 8.500" stroke="#767782" stroke-width="1.2"/>
<path d="M170.4 402.7 l1.800 8.500" stroke="#767782" stroke-width="1.2"/>
<path d="M137 435 L147 430.5 L151.5 436.5 L146 442.5 L139.5 443Z" fill="#1f2024"/>
<path d="M139.3 388 C139.4 390.8 139.5 399.2 139.6 405 C139.7 410.8 139.9 420 140 423" fill="none" stroke="#3f404a" stroke-width="2.4" stroke-linecap="round" stroke-linejoin="round"/>
<path d="M139.3 388 C139.4 390.8 139.5 399.2 139.6 405 C139.7 410.8 139.9 420 140 423" fill="none" stroke="#747682" stroke-width="0.9" stroke-linecap="round" stroke-linejoin="round"/>
</g>
<g id="h2" filter="url(#soft)">
<path d="M354.5 333 C354.6 335 354.4 340.8 354.8 345 C355.2 349.2 355.8 354.3 356.8 358.5 C357.8 362.7 359.5 366.2 361 370 C362.5 373.8 364.4 377.5 365.8 381 C367.2 384.5 368.4 388 369.5 391 C370.6 394 371.6 396.5 372.5 399 C373.4 401.5 374.2 404.1 375 406 C375.8 407.9 376.2 409.5 377.5 410.5 C378.8 411.5 380.4 412.1 382.6 411.8 C384.8 411.5 389.2 409.1 390.5 408.5" fill="none" stroke="#34353d" stroke-width="3.3" stroke-linecap="round" stroke-linejoin="round"/>
<path d="M354.5 333 C354.6 335 354.4 340.8 354.8 345 C355.2 349.2 355.8 354.3 356.8 358.5 C357.8 362.7 359.5 366.2 361 370 C362.5 373.8 364.4 377.5 365.8 381 C367.2 384.5 368.4 388 369.5 391 C370.6 394 371.6 396.5 372.5 399 C373.4 401.5 374.2 404.1 375 406 C375.8 407.9 376.2 409.5 377.5 410.5 C378.8 411.5 380.4 412.1 382.6 411.8 C384.8 411.5 389.2 409.1 390.5 408.5" fill="none" stroke="#565863" stroke-width="1.8" stroke-linecap="round" stroke-linejoin="round" transform="translate(-0.2,-0.3)"/>
<path d="M354.5 333 C354.6 335 354.4 340.8 354.8 345 C355.2 349.2 355.8 354.3 356.8 358.5 C357.8 362.7 359.5 366.2 361 370 C362.5 373.8 364.4 377.5 365.8 381 C367.2 384.5 368.4 388 369.5 391 C370.6 394 371.6 396.5 372.5 399 C373.4 401.5 374.2 404.1 375 406 C375.8 407.9 376.2 409.5 377.5 410.5 C378.8 411.5 380.4 412.1 382.6 411.8 C384.8 411.5 389.2 409.1 390.5 408.5" fill="none" stroke="#70727e" stroke-width="0.8" stroke-linecap="round" stroke-linejoin="round" transform="translate(-0.3,-0.5)"/>
<path d="M309 357.5 C310 357.4 313 357 315 357 C317 357 319 357.1 321 357.5 C323 357.9 325.2 358.4 327 359.5 C328.8 360.6 330.7 362.4 332 364 C333.3 365.6 334.5 367.4 334.8 369 C335.1 370.6 334.1 372.8 334 373.5" fill="none" stroke="#5b5c66" stroke-width="3.2" stroke-linecap="round" stroke-linejoin="round"/>
<path d="M309 357.5 C310 357.4 313 357 315 357 C317 357 319 357.1 321 357.5 C323 357.9 325.2 358.4 327 359.5 C328.8 360.6 330.7 362.4 332 364 C333.3 365.6 334.5 367.4 334.8 369 C335.1 370.6 334.1 372.8 334 373.5" fill="none" stroke="#a6a7af" stroke-width="1.1" stroke-linecap="round" stroke-linejoin="round"/>
<path d="M322.5 377 L327 372.5 L333.5 373.5 L334 378 L329 381.5 L324 380.5Z" fill="#26272c"/>
<path d="M347.5 328.5 C349.2 327.7 354.2 325.2 357.5 323.5 C360.8 321.8 363.7 320.2 367 318.5 C370.3 316.8 374 314.8 377.5 313 C381 311.2 384.4 309.7 388 308 C391.6 306.3 395.3 304.8 399 303 C402.7 301.2 406.3 299.4 410 297.5 C413.7 295.6 417.5 293.6 421 291.5 C424.5 289.4 428.2 286.9 431 285 C433.8 283.1 435.8 281.3 438 280 C440.2 278.7 443 277.5 444 277" fill="none" stroke="#363740" stroke-width="6.6" stroke-linecap="round" stroke-linejoin="round"/>
<path d="M347.5 328.5 C349.2 327.7 354.2 325.2 357.5 323.5 C360.8 321.8 363.7 320.2 367 318.5 C370.3 316.8 374 314.8 377.5 313 C381 311.2 384.4 309.7 388 308 C391.6 306.3 395.3 304.8 399 303 C402.7 301.2 406.3 299.4 410 297.5 C413.7 295.6 417.5 293.6 421 291.5 C424.5 289.4 428.2 286.9 431 285 C433.8 283.1 435.8 281.3 438 280 C440.2 278.7 443 277.5 444 277" fill="none" stroke="#565864" stroke-width="3.7" stroke-linecap="round" stroke-linejoin="round" transform="translate(-0.3,-0.5)"/>
<path d="M347.5 328.5 C349.2 327.7 354.2 325.2 357.5 323.5 C360.8 321.8 363.7 320.2 367 318.5 C370.3 316.8 374 314.8 377.5 313 C381 311.2 384.4 309.7 388 308 C391.6 306.3 395.3 304.8 399 303 C402.7 301.2 406.3 299.4 410 297.5 C413.7 295.6 417.5 293.6 421 291.5 C424.5 289.4 428.2 286.9 431 285 C433.8 283.1 435.8 281.3 438 280 C440.2 278.7 443 277.5 444 277" fill="none" stroke="#7d7f8b" stroke-width="1.6" stroke-linecap="round" stroke-linejoin="round" transform="translate(-0.6,-1.1)"/>
<path d="M443 277.5 C444.6 276.8 449.2 274.3 452.5 273.5 C455.8 272.7 459.2 272.1 462.5 272.5 C465.8 272.9 469.2 273.8 472.5 276 C475.8 278.2 479.6 282.7 482.5 286 C485.4 289.3 487.5 292.8 490 296 C492.5 299.2 495 301.7 497.5 305 C500 308.3 502.8 312.5 505 316 C507.2 319.5 509.3 323 511 326 C512.7 329 513.8 331 515 334 C516.2 337 517.9 342.3 518.5 344" fill="none" stroke="#363740" stroke-width="5.2" stroke-linecap="round" stroke-linejoin="round"/>
<path d="M443 277.5 C444.6 276.8 449.2 274.3 452.5 273.5 C455.8 272.7 459.2 272.1 462.5 272.5 C465.8 272.9 469.2 273.8 472.5 276 C475.8 278.2 479.6 282.7 482.5 286 C485.4 289.3 487.5 292.8 490 296 C492.5 299.2 495 301.7 497.5 305 C500 308.3 502.8 312.5 505 316 C507.2 319.5 509.3 323 511 326 C512.7 329 513.8 331 515 334 C516.2 337 517.9 342.3 518.5 344" fill="none" stroke="#565864" stroke-width="2.9" stroke-linecap="round" stroke-linejoin="round" transform="translate(-0.2,-0.4)"/>
<path d="M443 277.5 C444.6 276.8 449.2 274.3 452.5 273.5 C455.8 272.7 459.2 272.1 462.5 272.5 C465.8 272.9 469.2 273.8 472.5 276 C475.8 278.2 479.6 282.7 482.5 286 C485.4 289.3 487.5 292.8 490 296 C492.5 299.2 495 301.7 497.5 305 C500 308.3 502.8 312.5 505 316 C507.2 319.5 509.3 323 511 326 C512.7 329 513.8 331 515 334 C516.2 337 517.9 342.3 518.5 344" fill="none" stroke="#7d7f8b" stroke-width="1.2" stroke-linecap="round" stroke-linejoin="round" transform="translate(-0.5,-0.8)"/>
<path d="M515.5 346 L520.5 344.5 L521.5 348.5 L517 350Z" fill="#2a2b31"/>
<path d="M449.5 281.5 C450.9 281.5 454.6 281.2 458 281.5 C461.4 281.8 466.3 282.3 470 283 C473.7 283.7 477 284.4 480 285.5 C483 286.6 486.7 288.8 488 289.5" fill="none" stroke="#6a6b75" stroke-width="2.2" stroke-linecap="round" stroke-linejoin="round"/>
<path d="M449.5 281.5 C450.9 281.5 454.6 281.2 458 281.5 C461.4 281.8 466.3 282.3 470 283 C473.7 283.7 477 284.4 480 285.5 C483 286.6 486.7 288.8 488 289.5" fill="none" stroke="#b4b5bc" stroke-width="0.8" stroke-linecap="round" stroke-linejoin="round"/>
<path d="M443.5 284.5 C444.1 285.5 445.5 288.5 447 290.5 C448.5 292.5 449.9 294.3 452.5 296.5 C455.1 298.7 459.2 301.7 462.5 303.8 C465.8 305.9 469.4 308.2 472.5 309 C475.6 309.8 479.2 309.3 481 308.5 C482.8 307.7 482.7 304.8 483 304" fill="none" stroke="#34353d" stroke-width="3.6" stroke-linecap="round" stroke-linejoin="round"/>
<path d="M443.5 284.5 C444.1 285.5 445.5 288.5 447 290.5 C448.5 292.5 449.9 294.3 452.5 296.5 C455.1 298.7 459.2 301.7 462.5 303.8 C465.8 305.9 469.4 308.2 472.5 309 C475.6 309.8 479.2 309.3 481 308.5 C482.8 307.7 482.7 304.8 483 304" fill="none" stroke="#565863" stroke-width="2" stroke-linecap="round" stroke-linejoin="round" transform="translate(-0.2,-0.3)"/>
<path d="M443.5 284.5 C444.1 285.5 445.5 288.5 447 290.5 C448.5 292.5 449.9 294.3 452.5 296.5 C455.1 298.7 459.2 301.7 462.5 303.8 C465.8 305.9 469.4 308.2 472.5 309 C475.6 309.8 479.2 309.3 481 308.5 C482.8 307.7 482.7 304.8 483 304" fill="none" stroke="#70727e" stroke-width="0.9" stroke-linecap="round" stroke-linejoin="round" transform="translate(-0.3,-0.6)"/>
<path d="M446 283 C447 283.7 450 285.7 452 287 C454 288.3 456.2 289.9 458 291 C459.8 292.1 462.2 293.1 463 293.5" fill="none" stroke="#34353d" stroke-width="2.4" stroke-linecap="round" stroke-linejoin="round"/>
<path d="M446 283 C447 283.7 450 285.7 452 287 C454 288.3 456.2 289.9 458 291 C459.8 292.1 462.2 293.1 463 293.5" fill="none" stroke="#70727e" stroke-width="0.9" stroke-linecap="round" stroke-linejoin="round"/>
<path d="M459 294 C459.2 292.1 461.2 290.9 463 290 C464.8 289.1 467.5 288.6 470 288.5 C472.5 288.4 476 288.8 478 289.5 C480 290.2 481.3 291.2 482 293 C482.7 294.8 482.8 298.2 482 300 C481.2 301.8 479.3 303.3 477 304 C474.7 304.7 470.6 304.4 468 304 C465.4 303.6 463 303.2 461.5 301.5 C460 299.8 458.8 295.9 459 294Z" fill="#27282d"/>
<path d="M464 293 L476 293.5" stroke="#4a4b53" stroke-width="1.3"/>
<ellipse cx="477.500" cy="296.500" rx="2.5" ry="3.5" fill="#17181b"/>
<path d="M486 291.5 L492 287.5 L500 289.5 L507.5 294 L507 297.5 L499 299 L490 297Z" fill="#27282d"/>
<path d="M491 290.500 L503 294" stroke="#4a4b53" stroke-width="1.1"/>
<path d="M347.5 332.5 C348.9 333.8 353.1 337.6 356 340 C358.9 342.4 361.8 344.7 365 347.2 C368.2 349.7 371.7 352.6 375 355 C378.3 357.4 381.8 359.5 385 361.5 C388.2 363.5 391 365.4 394 367 C397 368.6 400 370 403 370.8 C406 371.6 409 372.1 412 372 C415 371.9 417.6 371.6 421 370 C424.4 368.4 428.5 364.9 432.5 362.5 C436.5 360.1 440.8 357.4 445 355.5 C449.2 353.6 454.3 352.4 457.5 351.3 C460.7 350.2 462.9 349.6 464 349.2" fill="none" stroke="#363740" stroke-width="8.8" stroke-linecap="round" stroke-linejoin="round"/>
<path d="M347.5 332.5 C348.9 333.8 353.1 337.6 356 340 C358.9 342.4 361.8 344.7 365 347.2 C368.2 349.7 371.7 352.6 375 355 C378.3 357.4 381.8 359.5 385 361.5 C388.2 363.5 391 365.4 394 367 C397 368.6 400 370 403 370.8 C406 371.6 409 372.1 412 372 C415 371.9 417.6 371.6 421 370 C424.4 368.4 428.5 364.9 432.5 362.5 C436.5 360.1 440.8 357.4 445 355.5 C449.2 353.6 454.3 352.4 457.5 351.3 C460.7 350.2 462.9 349.6 464 349.2" fill="none" stroke="#565864" stroke-width="4.9" stroke-linecap="round" stroke-linejoin="round" transform="translate(-0.4,-0.7)"/>
<path d="M347.5 332.5 C348.9 333.8 353.1 337.6 356 340 C358.9 342.4 361.8 344.7 365 347.2 C368.2 349.7 371.7 352.6 375 355 C378.3 357.4 381.8 359.5 385 361.5 C388.2 363.5 391 365.4 394 367 C397 368.6 400 370 403 370.8 C406 371.6 409 372.1 412 372 C415 371.9 417.6 371.6 421 370 C424.4 368.4 428.5 364.9 432.5 362.5 C436.5 360.1 440.8 357.4 445 355.5 C449.2 353.6 454.3 352.4 457.5 351.3 C460.7 350.2 462.9 349.6 464 349.2" fill="none" stroke="#7d7f8b" stroke-width="2.1" stroke-linecap="round" stroke-linejoin="round" transform="translate(-0.8,-1.4)"/>
<path d="M463 349.5 C463.8 349.1 466.6 348 468 347 C469.4 346 470.9 344.1 471.5 343.5" fill="none" stroke="#363740" stroke-width="5" stroke-linecap="round" stroke-linejoin="round"/>
<path d="M463 349.5 C463.8 349.1 466.6 348 468 347 C469.4 346 470.9 344.1 471.5 343.5" fill="none" stroke="#565864" stroke-width="2.8" stroke-linecap="round" stroke-linejoin="round" transform="translate(-0.2,-0.4)"/>
<path d="M463 349.5 C463.8 349.1 466.6 348 468 347 C469.4 346 470.9 344.1 471.5 343.5" fill="none" stroke="#7d7f8b" stroke-width="1.2" stroke-linecap="round" stroke-linejoin="round" transform="translate(-0.5,-0.8)"/>
<path d="M452 333.8 L457.5 329.4 L464.5 325.5 L471.3 322.5 L476.3 323.8 L480.6 331.3 L481.3 340 L473.8 342.5 L470 345 L461.3 345.6 L453.8 342.5Z" fill="#34353a"/>
<path d="M456.500 332.500 L472 324.500" stroke="#5d5e66" stroke-width="2.2" fill="none"/>
<path d="M461 343 Q459 336 464.500 329.500 M469.500 343 Q467.500 335 473 326.500" stroke="#4f5058" stroke-width="1.6" fill="none"/>
<path d="M474 342 L481 339.500 L480.500 332" stroke="#1d1e22" stroke-width="1.6" fill="none"/>
<path d="M347.5 327.5 C346.4 327.8 343.1 328.7 341 329.5 C338.9 330.3 337 331.2 335 332.5 C333 333.8 331.1 335.3 329 337 C326.9 338.7 324.5 340.9 322.5 342.5 C320.5 344.1 318.7 345.2 317 346.5 C315.3 347.8 314 348.4 312.5 350 C311 351.6 309.2 353.5 308 356 C306.8 358.5 306.5 362.2 305 365 C303.5 367.8 301.1 370 298.8 372.5 C296.5 375 293.1 377.9 291 380 C288.9 382.1 287.7 383.2 286 385 C284.3 386.8 282.4 389 281 391 C279.6 393 278.6 394.8 277.5 397 C276.4 399.2 275.2 401.5 274.5 404 C273.8 406.5 273.3 409 273 412 C272.7 415 272.6 420.3 272.5 422" fill="none" stroke="#363740" stroke-width="8.4" stroke-linecap="round" stroke-linejoin="round"/>
<path d="M347.5 327.5 C346.4 327.8 343.1 328.7 341 329.5 C338.9 330.3 337 331.2 335 332.5 C333 333.8 331.1 335.3 329 337 C326.9 338.7 324.5 340.9 322.5 342.5 C320.5 344.1 318.7 345.2 317 346.5 C315.3 347.8 314 348.4 312.5 350 C311 351.6 309.2 353.5 308 356 C306.8 358.5 306.5 362.2 305 365 C303.5 367.8 301.1 370 298.8 372.5 C296.5 375 293.1 377.9 291 380 C288.9 382.1 287.7 383.2 286 385 C284.3 386.8 282.4 389 281 391 C279.6 393 278.6 394.8 277.5 397 C276.4 399.2 275.2 401.5 274.5 404 C273.8 406.5 273.3 409 273 412 C272.7 415 272.6 420.3 272.5 422" fill="none" stroke="#565864" stroke-width="4.7" stroke-linecap="round" stroke-linejoin="round" transform="translate(-0.4,-0.7)"/>
<path d="M347.5 327.5 C346.4 327.8 343.1 328.7 341 329.5 C338.9 330.3 337 331.2 335 332.5 C333 333.8 331.1 335.3 329 337 C326.9 338.7 324.5 340.9 322.5 342.5 C320.5 344.1 318.7 345.2 317 346.5 C315.3 347.8 314 348.4 312.5 350 C311 351.6 309.2 353.5 308 356 C306.8 358.5 306.5 362.2 305 365 C303.5 367.8 301.1 370 298.8 372.5 C296.5 375 293.1 377.9 291 380 C288.9 382.1 287.7 383.2 286 385 C284.3 386.8 282.4 389 281 391 C279.6 393 278.6 394.8 277.5 397 C276.4 399.2 275.2 401.5 274.5 404 C273.8 406.5 273.3 409 273 412 C272.7 415 272.6 420.3 272.5 422" fill="none" stroke="#7d7f8b" stroke-width="2" stroke-linecap="round" stroke-linejoin="round" transform="translate(-0.8,-1.3)"/>
<path d="M337 332.5 L351 325" fill="none" stroke="#2e2f37" stroke-width="9.4" stroke-linecap="butt" stroke-linejoin="round"/>
<path d="M336.5 331 L350.5 323.5" fill="none" stroke="#464852" stroke-width="2.6" stroke-linecap="butt" stroke-linejoin="round"/>
<path d="M345.5 327.5 L353.5 337.5" fill="none" stroke="#2e2f37" stroke-width="9.6" stroke-linecap="butt" stroke-linejoin="round"/>
<path d="M347.5 327 L355.5 337" fill="none" stroke="#464852" stroke-width="2.4" stroke-linecap="butt" stroke-linejoin="round"/>
<path d="M270 397 L270.3 420" fill="none" stroke="#25262b" stroke-width="4.2" stroke-linecap="butt" stroke-linejoin="round"/>
<path d="M243.8 426 L248 422.5 L253.8 420 L262.5 422.5 L270 421 L280 421 L286 427.5 L287.5 435 L280 441 L270 442.5 L260 443.8 L247.5 442.5 L243.8 435Z" fill="#27282d"/>
<path d="M248 428 L260 424 M262 434 L280 426 M250 438.500 L262 436 M268 441 L268 424" stroke="#45464e" stroke-width="1.3" fill="none"/>
<path d="M281 401 L285 397.5 L291 399 L296 398 L296.5 407 L291 410 L284.5 409 L281.5 405.5Z" fill="#27282d"/>
<path d="M276 403.500 L283 404" stroke="#2a2b30" stroke-width="2.6"/>
<path d="M286.500 400 L286.500 408.500 M291.500 400 L291.500 409" stroke="#45464e" stroke-width="0.9"/>
<path d="M234 407 L238 400 L244 397.5 L250 398.5 L252.5 403.5 L251 410 L252.5 416 L248 421 L241 421 L236 416.5Z" fill="#27282d"/>
<path d="M238.500 404.500 L248.500 401 M238 412.500 L249 409.500" stroke="#484951" stroke-width="1.2" fill="none"/>
<path d="M226.3 403 C226.3 404.3 226.2 408.9 226.3 411 C226.4 413.1 226.7 414.8 226.8 415.5" fill="none" stroke="#25262b" stroke-width="3.4" stroke-linecap="butt" stroke-linejoin="round"/>
<path d="M224.5 414.5 L234 416.5" fill="none" stroke="#25262b" stroke-width="3" stroke-linecap="butt" stroke-linejoin="round"/>
<ellipse cx="260" cy="415" rx="4.600" ry="6" fill="none" stroke="#8a8b94" stroke-width="1.1"/>
<ellipse cx="262" cy="414.500" rx="3.600" ry="5" fill="none" stroke="#5e5f68" stroke-width="1"/>
<path d="M251 407 C252.2 406.8 255.5 405.7 258 405.5 C260.5 405.3 264 405.7 266 406 C268 406.3 269.3 407.2 270 407.5" fill="none" stroke="#2f3037" stroke-width="3.4" stroke-linecap="round" stroke-linejoin="round"/>
<path d="M246 419 L252 414 L257 416.5 L259 421 L252 424.5 L246 424Z" fill="#2a2b30"/>
<path d="M283 424 Q290.500 421.500 290 429 Q289 433.500 284 432.500" fill="none" stroke="#4a4b53" stroke-width="1"/>
<path d="M212.5 408.8 C214.6 410 220.8 413.7 225 416 C229.2 418.3 233.8 420.8 237.5 422.5 C241.2 424.2 245.8 425.8 247.5 426.5" fill="none" stroke="#34353d" stroke-width="3.6" stroke-linecap="round" stroke-linejoin="round"/>
<path d="M212.5 408.8 C214.6 410 220.8 413.7 225 416 C229.2 418.3 233.8 420.8 237.5 422.5 C241.2 424.2 245.8 425.8 247.5 426.5" fill="none" stroke="#565863" stroke-width="2" stroke-linecap="round" stroke-linejoin="round" transform="translate(-0.2,-0.3)"/>
<path d="M212.5 408.8 C214.6 410 220.8 413.7 225 416 C229.2 418.3 233.8 420.8 237.5 422.5 C241.2 424.2 245.8 425.8 247.5 426.5" fill="none" stroke="#70727e" stroke-width="0.9" stroke-linecap="round" stroke-linejoin="round" transform="translate(-0.3,-0.6)"/>
<path d="M210 411 C212.1 412.7 218.3 418.2 222.5 421 C226.7 423.8 231.2 425.6 235 427.5 C238.8 429.4 243.3 431.7 245 432.5" fill="none" stroke="#34353d" stroke-width="3.6" stroke-linecap="round" stroke-linejoin="round"/>
<path d="M210 411 C212.1 412.7 218.3 418.2 222.5 421 C226.7 423.8 231.2 425.6 235 427.5 C238.8 429.4 243.3 431.7 245 432.5" fill="none" stroke="#565863" stroke-width="2" stroke-linecap="round" stroke-linejoin="round" transform="translate(-0.2,-0.3)"/>
<path d="M210 411 C212.1 412.7 218.3 418.2 222.5 421 C226.7 423.8 231.2 425.6 235 427.5 C238.8 429.4 243.3 431.7 245 432.5" fill="none" stroke="#70727e" stroke-width="0.9" stroke-linecap="round" stroke-linejoin="round" transform="translate(-0.3,-0.6)"/>
<path d="M208.5 412.5 C209.9 414.2 213.9 419.8 217 423 C220.1 426.2 223.5 429.1 227 431.5 C230.5 433.9 234.8 436.1 238 437.5 C241.2 438.9 244.7 439.6 246 440" fill="none" stroke="#34353d" stroke-width="3.2" stroke-linecap="round" stroke-linejoin="round"/>
<path d="M208.5 412.5 C209.9 414.2 213.9 419.8 217 423 C220.1 426.2 223.5 429.1 227 431.5 C230.5 433.9 234.8 436.1 238 437.5 C241.2 438.9 244.7 439.6 246 440" fill="none" stroke="#565863" stroke-width="1.8" stroke-linecap="round" stroke-linejoin="round" transform="translate(-0.2,-0.3)"/>
<path d="M208.5 412.5 C209.9 414.2 213.9 419.8 217 423 C220.1 426.2 223.5 429.1 227 431.5 C230.5 433.9 234.8 436.1 238 437.5 C241.2 438.9 244.7 439.6 246 440" fill="none" stroke="#70727e" stroke-width="0.8" stroke-linecap="round" stroke-linejoin="round" transform="translate(-0.3,-0.5)"/>
<path d="M207.5 413.8 C208.1 414.8 209.8 418 211 420 C212.2 422 213.5 423.9 215 426 C216.5 428.1 218.3 430.4 220 432.5 C221.7 434.6 223 436.6 225 438.8 C227 441.1 229.5 443.7 232 446 C234.5 448.3 237.3 450.5 240 452.5 C242.7 454.5 245.3 456.2 248 458 C250.7 459.8 254.7 462.2 256 463" fill="none" stroke="#33343c" stroke-width="4.8" stroke-linecap="round" stroke-linejoin="round"/>
<path d="M207.5 413.8 C208.1 414.8 209.8 418 211 420 C212.2 422 213.5 423.9 215 426 C216.5 428.1 218.3 430.4 220 432.5 C221.7 434.6 223 436.6 225 438.8 C227 441.1 229.5 443.7 232 446 C234.5 448.3 237.3 450.5 240 452.5 C242.7 454.5 245.3 456.2 248 458 C250.7 459.8 254.7 462.2 256 463" fill="none" stroke="#565863" stroke-width="2.7" stroke-linecap="round" stroke-linejoin="round" transform="translate(-0.2,-0.4)"/>
<path d="M207.5 413.8 C208.1 414.8 209.8 418 211 420 C212.2 422 213.5 423.9 215 426 C216.5 428.1 218.3 430.4 220 432.5 C221.7 434.6 223 436.6 225 438.8 C227 441.1 229.5 443.7 232 446 C234.5 448.3 237.3 450.5 240 452.5 C242.7 454.5 245.3 456.2 248 458 C250.7 459.8 254.7 462.2 256 463" fill="none" stroke="#5f616c" stroke-width="1.2" stroke-linecap="round" stroke-linejoin="round" transform="translate(-0.5,-0.8)"/>
<path d="M256 463 C257.2 463.9 260.5 466.2 263 468.5 C265.5 470.8 268.5 473.8 271 476.5 C273.5 479.2 275.7 481.9 278 485 C280.3 488.1 282.9 491.7 285 495 C287.1 498.3 288.9 501.7 290.5 505 C292.1 508.3 293.8 511.8 294.5 515 C295.2 518.2 295.6 521.3 295 524 C294.4 526.7 292.8 529.1 291 531 C289.2 532.9 286.7 534.4 284 535.5 C281.3 536.6 276.5 537.2 275 537.5" fill="none" stroke="#34353d" stroke-width="3" stroke-linecap="round" stroke-linejoin="round"/>
<path d="M256 463 C257.2 463.9 260.5 466.2 263 468.5 C265.5 470.8 268.5 473.8 271 476.5 C273.5 479.2 275.7 481.9 278 485 C280.3 488.1 282.9 491.7 285 495 C287.1 498.3 288.9 501.7 290.5 505 C292.1 508.3 293.8 511.8 294.5 515 C295.2 518.2 295.6 521.3 295 524 C294.4 526.7 292.8 529.1 291 531 C289.2 532.9 286.7 534.4 284 535.5 C281.3 536.6 276.5 537.2 275 537.5" fill="none" stroke="#565863" stroke-width="1.7" stroke-linecap="round" stroke-linejoin="round" transform="translate(-0.1,-0.2)"/>
<path d="M256 463 C257.2 463.9 260.5 466.2 263 468.5 C265.5 470.8 268.5 473.8 271 476.5 C273.5 479.2 275.7 481.9 278 485 C280.3 488.1 282.9 491.7 285 495 C287.1 498.3 288.9 501.7 290.5 505 C292.1 508.3 293.8 511.8 294.5 515 C295.2 518.2 295.6 521.3 295 524 C294.4 526.7 292.8 529.1 291 531 C289.2 532.9 286.7 534.4 284 535.5 C281.3 536.6 276.5 537.2 275 537.5" fill="none" stroke="#70727e" stroke-width="0.7" stroke-linecap="round" stroke-linejoin="round" transform="translate(-0.3,-0.5)"/>
<path d="M206.3 409 C206 411.2 205 417.6 204.5 422.5 C204 427.4 203.8 433.4 203.3 438.3 C202.8 443.2 202.6 447.8 201.5 451.8 C200.4 455.8 198.5 459.9 196.5 462.5 C194.5 465.1 191.6 466.6 189.4 467.3 C187.2 468 185.2 467.4 183.5 466.8 C181.8 466.2 180.2 464.5 179.5 464" fill="none" stroke="#4a4b55" stroke-width="4.2" stroke-linecap="round" stroke-linejoin="round"/>
<path d="M205.4 409 C205.1 411.2 204.1 417.6 203.6 422.5 C203.1 427.4 202.9 433.4 202.4 438.3 C201.9 443.2 201.7 447.8 200.6 451.8 C199.5 455.8 197.6 459.9 195.6 462.5 C193.6 465.1 190.7 466.6 188.5 467.3 C186.3 468 184.2 467.4 182.6 466.8 C180.9 466.2 179.3 464.5 178.6 464" fill="none" stroke="#a4a5ad" stroke-width="1" stroke-linecap="round" stroke-linejoin="round"/>
<path d="M207.2 409.3 C206.9 411.6 205.9 417.9 205.4 422.8 C204.9 427.7 204.7 433.7 204.2 438.6 C203.7 443.5 203.5 448.1 202.4 452.1 C201.3 456.1 199.4 460.2 197.4 462.8 C195.4 465.4 192.5 466.9 190.3 467.6 C188.1 468.3 186.1 467.7 184.4 467.1 C182.8 466.6 181.1 464.8 180.4 464.3" fill="none" stroke="#2f3037" stroke-width="0.8" stroke-linecap="round" stroke-linejoin="round"/>
<rect x="171.1" y="458.1" width="9.5" height="6.5" rx="1" fill="#3a3b42" transform="rotate(42 175.8 461.3)"/>
<path d="M172.500 458 l5.500 5.500" stroke="#cfd0d5" stroke-width="1.2"/>
<path d="M204.5 405.5 L209 403.5 L214.5 405.5 L214 410 L208 411.5 L204.5 409.5Z" fill="#25262b"/>
<path d="M256 463.5 C257.3 463.9 261.2 465.7 264 466.2 C266.8 466.7 270 466.8 273 466.3 C276 465.9 279.2 464.6 282 463.5 C284.8 462.4 288.7 460.6 290 460" fill="none" stroke="#34353d" stroke-width="2.8" stroke-linecap="round" stroke-linejoin="round"/>
<path d="M256 463.5 C257.3 463.9 261.2 465.7 264 466.2 C266.8 466.7 270 466.8 273 466.3 C276 465.9 279.2 464.6 282 463.5 C284.8 462.4 288.7 460.6 290 460" fill="none" stroke="#70727e" stroke-width="1" stroke-linecap="round" stroke-linejoin="round"/>
<path d="M289 457.5 L293 454 L303 455.5 L305.5 459.5 L303 464 L294 464.5 L290 462Z" fill="#27282d"/>
<path d="M293.500 457 L302.500 458.500" stroke="#484951" stroke-width="1"/>
<ellipse cx="291.5" cy="513" rx="1.6" ry="2.2" fill="none" stroke="#9a9ba4" stroke-width="0.9"/>
<ellipse cx="279.5" cy="535.5" rx="2.2" ry="1.5" fill="none" stroke="#9a9ba4" stroke-width="0.9"/>
<path d="M254 527 L258 523.5 L268 529 L269.5 536 L266 540.5 L257 537.5 L254 533Z" fill="#27282d"/>
<path d="M257 526 L267 531.5" stroke="#484951" stroke-width="1.2"/>
</g>
<g id="h6" filter="url(#soft)">
<path d="M556 110 C554.7 111.1 550.7 114.7 548 116.5 C545.3 118.3 543.3 119.5 540 121 C536.7 122.5 532.2 123.9 528 125.5 C523.8 127.1 519.5 128.7 515 130.5 C510.5 132.3 505.7 134.4 501 136.5 C496.3 138.6 491.5 140.8 487 143 C482.5 145.2 478.2 147.4 474 149.5 C469.8 151.6 465.2 153.9 462 155.5 C458.8 157.1 457.4 157.5 455 159 C452.6 160.5 450 162.4 447.5 164.3 C445 166.2 442.2 168.4 440 170.3 C437.8 172.2 436 174.3 434 175.8 C432 177.3 430 178.2 428 179.5 C426 180.8 424 182 422 183.5 C420 185 418 186.5 416 188.5 C414 190.5 411.8 192.8 410 195.5 C408.2 198.2 406.3 201.8 405 205 C403.7 208.2 402.8 211.7 402 215 C401.2 218.3 400.5 221.7 400 225 C399.5 228.3 399.2 232 399.2 235 C399.2 238 399.6 240.5 400 243 C400.4 245.5 401.3 247.3 401.5 250 C401.7 252.7 401.2 255.8 401 259 C400.8 262.2 400.4 267.3 400.3 269" fill="none" stroke="#3a3b44" stroke-width="3" stroke-linecap="round" stroke-linejoin="round"/>
<path d="M556 110 C554.7 111.1 550.7 114.7 548 116.5 C545.3 118.3 543.3 119.5 540 121 C536.7 122.5 532.2 123.9 528 125.5 C523.8 127.1 519.5 128.7 515 130.5 C510.5 132.3 505.7 134.4 501 136.5 C496.3 138.6 491.5 140.8 487 143 C482.5 145.2 478.2 147.4 474 149.5 C469.8 151.6 465.2 153.9 462 155.5 C458.8 157.1 457.4 157.5 455 159 C452.6 160.5 450 162.4 447.5 164.3 C445 166.2 442.2 168.4 440 170.3 C437.8 172.2 436 174.3 434 175.8 C432 177.3 430 178.2 428 179.5 C426 180.8 424 182 422 183.5 C420 185 418 186.5 416 188.5 C414 190.5 411.8 192.8 410 195.5 C408.2 198.2 406.3 201.8 405 205 C403.7 208.2 402.8 211.7 402 215 C401.2 218.3 400.5 221.7 400 225 C399.5 228.3 399.2 232 399.2 235 C399.2 238 399.6 240.5 400 243 C400.4 245.5 401.3 247.3 401.5 250 C401.7 252.7 401.2 255.8 401 259 C400.8 262.2 400.4 267.3 400.3 269" fill="none" stroke="#565863" stroke-width="1.7" stroke-linecap="round" stroke-linejoin="round" transform="translate(-0.1,-0.2)"/>
<path d="M556 110 C554.7 111.1 550.7 114.7 548 116.5 C545.3 118.3 543.3 119.5 540 121 C536.7 122.5 532.2 123.9 528 125.5 C523.8 127.1 519.5 128.7 515 130.5 C510.5 132.3 505.7 134.4 501 136.5 C496.3 138.6 491.5 140.8 487 143 C482.5 145.2 478.2 147.4 474 149.5 C469.8 151.6 465.2 153.9 462 155.5 C458.8 157.1 457.4 157.5 455 159 C452.6 160.5 450 162.4 447.5 164.3 C445 166.2 442.2 168.4 440 170.3 C437.8 172.2 436 174.3 434 175.8 C432 177.3 430 178.2 428 179.5 C426 180.8 424 182 422 183.5 C420 185 418 186.5 416 188.5 C414 190.5 411.8 192.8 410 195.5 C408.2 198.2 406.3 201.8 405 205 C403.7 208.2 402.8 211.7 402 215 C401.2 218.3 400.5 221.7 400 225 C399.5 228.3 399.2 232 399.2 235 C399.2 238 399.6 240.5 400 243 C400.4 245.5 401.3 247.3 401.5 250 C401.7 252.7 401.2 255.8 401 259 C400.8 262.2 400.4 267.3 400.3 269" fill="none" stroke="#62646f" stroke-width="0.7" stroke-linecap="round" stroke-linejoin="round" transform="translate(-0.3,-0.5)"/>
<path d="M399.5 270 L401.5 268.8 L408.5 273.2 L408 276.3 L400 272.8Z" fill="#1f2024"/>
<path d="M467.5 12.5 C466.2 13.5 462.3 16 460 18.5 C457.7 21 455.2 24.2 453.5 27.5 C451.8 30.8 450.3 34.6 449.5 38 C448.7 41.4 448.3 44.8 448.5 48 C448.7 51.2 449.3 54.5 450.5 57 C451.7 59.5 453.4 61.6 455.5 63 C457.6 64.4 460.4 65.2 463 65.5 C465.6 65.8 469.7 65.1 471 65" fill="none" stroke="#3a3b45" stroke-width="6.5" stroke-linecap="round" stroke-linejoin="round"/>
<path d="M465 10.5 C463.7 11.4 459.4 13.6 457 16 C454.6 18.4 452.3 21.7 450.5 25 C448.7 28.3 447 32.3 446 36 C445 39.7 444.4 43.5 444.5 47 C444.6 50.5 445.2 54.1 446.5 57 C447.8 59.9 449.8 62.7 452 64.5 C454.2 66.3 457 67.5 460 68 C463 68.5 468.3 67.6 470 67.5" fill="none" stroke="#33343c" stroke-width="3.2" stroke-linecap="round" stroke-linejoin="round"/>
<path d="M465 10.5 C463.7 11.4 459.4 13.6 457 16 C454.6 18.4 452.3 21.7 450.5 25 C448.7 28.3 447 32.3 446 36 C445 39.7 444.4 43.5 444.5 47 C444.6 50.5 445.2 54.1 446.5 57 C447.8 59.9 449.8 62.7 452 64.5 C454.2 66.3 457 67.5 460 68 C463 68.5 468.3 67.6 470 67.5" fill="none" stroke="#4a4c57" stroke-width="1.8" stroke-linecap="round" stroke-linejoin="round" transform="translate(-0.2,-0.3)"/>
<path d="M465 10.5 C463.7 11.4 459.4 13.6 457 16 C454.6 18.4 452.3 21.7 450.5 25 C448.7 28.3 447 32.3 446 36 C445 39.7 444.4 43.5 444.5 47 C444.6 50.5 445.2 54.1 446.5 57 C447.8 59.9 449.8 62.7 452 64.5 C454.2 66.3 457 67.5 460 68 C463 68.5 468.3 67.6 470 67.5" fill="none" stroke="#676975" stroke-width="0.8" stroke-linecap="round" stroke-linejoin="round" transform="translate(-0.3,-0.5)"/>
<path d="M467.5 12.5 C466.2 13.5 462.3 16 460 18.5 C457.7 21 455.2 24.2 453.5 27.5 C451.8 30.8 450.3 34.6 449.5 38 C448.7 41.4 448.3 44.8 448.5 48 C448.7 51.2 449.3 54.5 450.5 57 C451.7 59.5 453.4 61.6 455.5 63 C457.6 64.4 460.4 65.2 463 65.5 C465.6 65.8 469.7 65.1 471 65" fill="none" stroke="#33343c" stroke-width="3.2" stroke-linecap="round" stroke-linejoin="round"/>
<path d="M467.5 12.5 C466.2 13.5 462.3 16 460 18.5 C457.7 21 455.2 24.2 453.5 27.5 C451.8 30.8 450.3 34.6 449.5 38 C448.7 41.4 448.3 44.8 448.5 48 C448.7 51.2 449.3 54.5 450.5 57 C451.7 59.5 453.4 61.6 455.5 63 C457.6 64.4 460.4 65.2 463 65.5 C465.6 65.8 469.7 65.1 471 65" fill="none" stroke="#4a4c57" stroke-width="1.8" stroke-linecap="round" stroke-linejoin="round" transform="translate(-0.2,-0.3)"/>
<path d="M467.5 12.5 C466.2 13.5 462.3 16 460 18.5 C457.7 21 455.2 24.2 453.5 27.5 C451.8 30.8 450.3 34.6 449.5 38 C448.7 41.4 448.3 44.8 448.5 48 C448.7 51.2 449.3 54.5 450.5 57 C451.7 59.5 453.4 61.6 455.5 63 C457.6 64.4 460.4 65.2 463 65.5 C465.6 65.8 469.7 65.1 471 65" fill="none" stroke="#676975" stroke-width="0.8" stroke-linecap="round" stroke-linejoin="round" transform="translate(-0.3,-0.5)"/>
<path d="M470 15 C468.8 16 465.2 18.5 463 21 C460.8 23.5 458.6 26.8 457 30 C455.4 33.2 454.2 36.7 453.5 40 C452.8 43.3 452.7 47 453 50 C453.3 53 454.2 55.9 455.5 58 C456.8 60.1 458.8 61.7 461 62.5 C463.2 63.3 467.7 62.9 469 63" fill="none" stroke="#33343c" stroke-width="3" stroke-linecap="round" stroke-linejoin="round"/>
<path d="M470 15 C468.8 16 465.2 18.5 463 21 C460.8 23.5 458.6 26.8 457 30 C455.4 33.2 454.2 36.7 453.5 40 C452.8 43.3 452.7 47 453 50 C453.3 53 454.2 55.9 455.5 58 C456.8 60.1 458.8 61.7 461 62.5 C463.2 63.3 467.7 62.9 469 63" fill="none" stroke="#4a4c57" stroke-width="1.7" stroke-linecap="round" stroke-linejoin="round" transform="translate(-0.1,-0.2)"/>
<path d="M470 15 C468.8 16 465.2 18.5 463 21 C460.8 23.5 458.6 26.8 457 30 C455.4 33.2 454.2 36.7 453.5 40 C452.8 43.3 452.7 47 453 50 C453.3 53 454.2 55.9 455.5 58 C456.8 60.1 458.8 61.7 461 62.5 C463.2 63.3 467.7 62.9 469 63" fill="none" stroke="#676975" stroke-width="0.7" stroke-linecap="round" stroke-linejoin="round" transform="translate(-0.3,-0.5)"/>
<path d="M463 36 C463.8 36.6 466.6 37.8 468 39.5 C469.4 41.2 470.7 43.6 471.5 46 C472.3 48.4 472.9 51.3 473 54 C473.1 56.7 472.2 60.7 472 62" fill="none" stroke="#4a4b55" stroke-width="2" stroke-linecap="round" stroke-linejoin="round"/>
<path d="M463 36 C463.8 36.6 466.6 37.8 468 39.5 C469.4 41.2 470.7 43.6 471.5 46 C472.3 48.4 472.9 51.3 473 54 C473.1 56.7 472.2 60.7 472 62" fill="none" stroke="#9a9ca6" stroke-width="0.7" stroke-linecap="round" stroke-linejoin="round"/>
<path d="M462 47 C462.8 47.6 465.3 48.8 466.5 50.5 C467.7 52.2 468.7 54.9 469 57 C469.3 59.1 468.6 62 468.5 63" fill="none" stroke="#4a4b55" stroke-width="2" stroke-linecap="round" stroke-linejoin="round"/>
<path d="M462 47 C462.8 47.6 465.3 48.8 466.5 50.5 C467.7 52.2 468.7 54.9 469 57 C469.3 59.1 468.6 62 468.5 63" fill="none" stroke="#9a9ca6" stroke-width="0.7" stroke-linecap="round" stroke-linejoin="round"/>
<path d="M463 56.5 C463.5 56.9 465.3 57.8 466 59 C466.7 60.2 466.8 62.8 467 63.5" fill="none" stroke="#4a4b55" stroke-width="1.8" stroke-linecap="round" stroke-linejoin="round"/>
<path d="M463 56.5 C463.5 56.9 465.3 57.8 466 59 C466.7 60.2 466.8 62.8 467 63.5" fill="none" stroke="#9a9ca6" stroke-width="0.6" stroke-linecap="round" stroke-linejoin="round"/>
<ellipse cx="465.6" cy="79.4" rx="7.2" ry="8.6" fill="none" stroke="#32333b" stroke-width="4.4" transform="rotate(25 465.6 79.4)"/>
<ellipse cx="465.2" cy="79" rx="7.4" ry="8.8" fill="none" stroke="#5d5f6a" stroke-width="1.2" transform="rotate(25 465.2 79)"/>
<path d="M463.5 12 L468 8.5 L474 8.5 L480 10.5 L483 15 L482.5 25 L478.5 29.5 L470 30 L465.5 27 L463 21Z" fill="#25262b"/>
<path d="M467.500 12.5 L480 15.5 M466 20 L480.5 23.5" stroke="#45464e" stroke-width="1.3" fill="none"/>
<rect x="454.8" y="28.8" width="8.5" height="8.5" rx="1.5" fill="#25262b" transform="rotate(15 459 33)"/>
<rect x="453.6" y="39.2" width="8.5" height="8.5" rx="1.5" fill="#25262b" transform="rotate(10 457.8 43.5)"/>
<rect x="454.8" y="49.2" width="8.5" height="8.5" rx="1.5" fill="#25262b" transform="rotate(5 459 53.5)"/>
<path d="M472 64.5 C473.3 65 477.3 66.2 480 67.5 C482.7 68.8 485.5 70.7 488 72.5 C490.5 74.3 492.8 76.5 495 78.5 C497.2 80.5 498.8 82.6 501 84.5 C503.2 86.4 505.3 88.2 508 90 C510.7 91.8 513.8 93.6 517 95 C520.2 96.4 523.5 97.6 527 98.5 C530.5 99.4 534.3 99.9 538 100.5 C541.7 101.1 545.3 101.2 549 102 C552.7 102.8 556.1 104.4 560 105.5 C563.9 106.6 568.3 107 572.5 108.8 C576.7 110.5 580.8 113.5 585 116 C589.2 118.5 593.3 121.2 597.5 123.5 C601.7 125.8 605.8 127.8 610 130 C614.2 132.2 618.3 134.5 622.5 136.5 C626.7 138.5 630.8 140.4 635 142 C639.2 143.6 644.2 144.8 647.5 146 C650.8 147.2 652.8 147.7 655 149 C657.2 150.3 659.2 152 661 154 C662.8 156 664.2 158.6 665.5 161 C666.8 163.4 667.3 166 668.5 168.5 C669.7 171 671 173.3 672.5 176 C674 178.7 675.6 181.8 677.5 184.5 C679.4 187.2 681.8 190 684 192 C686.2 194 689.2 195 691 196.5 C692.8 198 694.3 200.2 695 201" fill="none" stroke="#33343c" stroke-width="9.6" stroke-linecap="round" stroke-linejoin="round"/>
<path d="M472 64.5 C473.3 65 477.3 66.2 480 67.5 C482.7 68.8 485.5 70.7 488 72.5 C490.5 74.3 492.8 76.5 495 78.5 C497.2 80.5 498.8 82.6 501 84.5 C503.2 86.4 505.3 88.2 508 90 C510.7 91.8 513.8 93.6 517 95 C520.2 96.4 523.5 97.6 527 98.5 C530.5 99.4 534.3 99.9 538 100.5 C541.7 101.1 545.3 101.2 549 102 C552.7 102.8 556.1 104.4 560 105.5 C563.9 106.6 568.3 107 572.5 108.8 C576.7 110.5 580.8 113.5 585 116 C589.2 118.5 593.3 121.2 597.5 123.5 C601.7 125.8 605.8 127.8 610 130 C614.2 132.2 618.3 134.5 622.5 136.5 C626.7 138.5 630.8 140.4 635 142 C639.2 143.6 644.2 144.8 647.5 146 C650.8 147.2 652.8 147.7 655 149 C657.2 150.3 659.2 152 661 154 C662.8 156 664.2 158.6 665.5 161 C666.8 163.4 667.3 166 668.5 168.5 C669.7 171 671 173.3 672.5 176 C674 178.7 675.6 181.8 677.5 184.5 C679.4 187.2 681.8 190 684 192 C686.2 194 689.2 195 691 196.5 C692.8 198 694.3 200.2 695 201" fill="none" stroke="#4a4c57" stroke-width="5.4" stroke-linecap="round" stroke-linejoin="round" transform="translate(-0.5,-0.8)"/>
<path d="M472 64.5 C473.3 65 477.3 66.2 480 67.5 C482.7 68.8 485.5 70.7 488 72.5 C490.5 74.3 492.8 76.5 495 78.5 C497.2 80.5 498.8 82.6 501 84.5 C503.2 86.4 505.3 88.2 508 90 C510.7 91.8 513.8 93.6 517 95 C520.2 96.4 523.5 97.6 527 98.5 C530.5 99.4 534.3 99.9 538 100.5 C541.7 101.1 545.3 101.2 549 102 C552.7 102.8 556.1 104.4 560 105.5 C563.9 106.6 568.3 107 572.5 108.8 C576.7 110.5 580.8 113.5 585 116 C589.2 118.5 593.3 121.2 597.5 123.5 C601.7 125.8 605.8 127.8 610 130 C614.2 132.2 618.3 134.5 622.5 136.5 C626.7 138.5 630.8 140.4 635 142 C639.2 143.6 644.2 144.8 647.5 146 C650.8 147.2 652.8 147.7 655 149 C657.2 150.3 659.2 152 661 154 C662.8 156 664.2 158.6 665.5 161 C666.8 163.4 667.3 166 668.5 168.5 C669.7 171 671 173.3 672.5 176 C674 178.7 675.6 181.8 677.5 184.5 C679.4 187.2 681.8 190 684 192 C686.2 194 689.2 195 691 196.5 C692.8 198 694.3 200.2 695 201" fill="none" stroke="#676975" stroke-width="2.3" stroke-linecap="round" stroke-linejoin="round" transform="translate(-0.9,-1.5)"/>
<path d="M695 201 C694.7 202 693.8 204.7 693 207 C692.2 209.3 690.8 212 690 215 C689.2 218 688.7 221.7 688.5 225 C688.3 228.3 688.5 231.8 688.8 235 C689 238.2 689.6 241.5 690 244 C690.4 246.5 690.8 249 691 250" fill="none" stroke="#33343c" stroke-width="8.4" stroke-linecap="round" stroke-linejoin="round"/>
<path d="M695 201 C694.7 202 693.8 204.7 693 207 C692.2 209.3 690.8 212 690 215 C689.2 218 688.7 221.7 688.5 225 C688.3 228.3 688.5 231.8 688.8 235 C689 238.2 689.6 241.5 690 244 C690.4 246.5 690.8 249 691 250" fill="none" stroke="#4a4c57" stroke-width="4.7" stroke-linecap="round" stroke-linejoin="round" transform="translate(-0.4,-0.7)"/>
<path d="M695 201 C694.7 202 693.8 204.7 693 207 C692.2 209.3 690.8 212 690 215 C689.2 218 688.7 221.7 688.5 225 C688.3 228.3 688.5 231.8 688.8 235 C689 238.2 689.6 241.5 690 244 C690.4 246.5 690.8 249 691 250" fill="none" stroke="#676975" stroke-width="2" stroke-linecap="round" stroke-linejoin="round" transform="translate(-0.8,-1.3)"/>
<path d="M690.6 248 L691.4 254.5" fill="none" stroke="#2a2b31" stroke-width="5" stroke-linecap="round" stroke-linejoin="round"/>
<path d="M590 118.5 L603 126.5" fill="none" stroke="#2b2c33" stroke-width="10" stroke-linecap="butt" stroke-linejoin="round"/>
<path d="M589.5 117.2 L602.5 125.2" fill="none" stroke="#3d3e48" stroke-width="3" stroke-linecap="butt" stroke-linejoin="round"/>
<path d="M607 128.5 L620 135.5" fill="none" stroke="#2b2c33" stroke-width="10" stroke-linecap="butt" stroke-linejoin="round"/>
<path d="M606.5 127.2 L619.5 134.2" fill="none" stroke="#3d3e48" stroke-width="3" stroke-linecap="butt" stroke-linejoin="round"/>
<path d="M549 101.5 L558 104.5" fill="none" stroke="#2b2c33" stroke-width="10.4" stroke-linecap="butt" stroke-linejoin="round"/>
<path d="M548.5 100.2 L557.5 103.2" fill="none" stroke="#3d3e48" stroke-width="3" stroke-linecap="butt" stroke-linejoin="round"/>
<path d="M480 64 L487 63 L496 67.5 L498.5 74 L495.5 80.5 L488 82.5 L482.5 77.5 L480.5 70Z" fill="#2a2b31"/>
<path d="M484.5 66 L495 78" stroke="#4b4c55" stroke-width="1.2"/>
<path d="M551 106 C550.6 106.8 548.3 109.3 548.5 110.5 C548.7 111.7 551.4 112.6 552 113" fill="none" stroke="#292a30" stroke-width="2.6" stroke-linecap="round" stroke-linejoin="round"/>
<path d="M631 140 L636.500 129.5 L643.500 127.5 L646 132 L644.500 143" fill="none" stroke="#2a2b31" stroke-width="3" stroke-linejoin="round" stroke-linecap="round"/>
<path d="M624.5 142 L637 146.5 L637.8 152 L633.5 154.5 L626 152Z" fill="#27282d"/>
<rect x="669" y="154.5" width="6.5" height="8" rx="1.2" fill="#2a2b31" transform="rotate(-20 672.3 158.5)"/>
<path d="M650 180.5 C651.3 180.4 655.5 180.4 658 180 C660.5 179.6 662.8 178.8 665 178 C667.2 177.2 670.4 175.9 671.5 175.5" fill="none" stroke="#33343c" stroke-width="6.2" stroke-linecap="round" stroke-linejoin="round"/>
<path d="M650 180.5 C651.3 180.4 655.5 180.4 658 180 C660.5 179.6 662.8 178.8 665 178 C667.2 177.2 670.4 175.9 671.5 175.5" fill="none" stroke="#4a4c57" stroke-width="3.5" stroke-linecap="round" stroke-linejoin="round" transform="translate(-0.3,-0.5)"/>
<path d="M650 180.5 C651.3 180.4 655.5 180.4 658 180 C660.5 179.6 662.8 178.8 665 178 C667.2 177.2 670.4 175.9 671.5 175.5" fill="none" stroke="#676975" stroke-width="1.5" stroke-linecap="round" stroke-linejoin="round" transform="translate(-0.6,-1)"/>
<path d="M638.5 172.5 L644 169.5 L650.5 170.5 L652.5 175 L652 183 L647 186 L640.5 184.5 L638.5 179Z" fill="#2b2c32"/>
<path d="M641 172.5 L650.500 174" stroke="#50515a" stroke-width="1.3"/>
<path d="M669.5 172.5 L673 179" fill="none" stroke="#24252a" stroke-width="2.2" stroke-linecap="round" stroke-linejoin="round"/>
<path d="M689.5 180.5 C690.3 181.1 692.9 182.4 694.5 184 C696.1 185.6 697.5 187.7 699 190 C700.5 192.3 702.5 195.1 703.5 198 C704.5 200.9 705 204.2 705 207.5 C705 210.8 704.3 214.4 703.5 218 C702.7 221.6 701.2 225.7 700 229 C698.8 232.3 697.4 235.4 696.5 238 C695.6 240.6 694.8 243.4 694.5 244.5" fill="none" stroke="#33343c" stroke-width="5.4" stroke-linecap="round" stroke-linejoin="round"/>
<path d="M689.5 180.5 C690.3 181.1 692.9 182.4 694.5 184 C696.1 185.6 697.5 187.7 699 190 C700.5 192.3 702.5 195.1 703.5 198 C704.5 200.9 705 204.2 705 207.5 C705 210.8 704.3 214.4 703.5 218 C702.7 221.6 701.2 225.7 700 229 C698.8 232.3 697.4 235.4 696.5 238 C695.6 240.6 694.8 243.4 694.5 244.5" fill="none" stroke="#4a4c57" stroke-width="3" stroke-linecap="round" stroke-linejoin="round" transform="translate(-0.3,-0.4)"/>
<path d="M689.5 180.5 C690.3 181.1 692.9 182.4 694.5 184 C696.1 185.6 697.5 187.7 699 190 C700.5 192.3 702.5 195.1 703.5 198 C704.5 200.9 705 204.2 705 207.5 C705 210.8 704.3 214.4 703.5 218 C702.7 221.6 701.2 225.7 700 229 C698.8 232.3 697.4 235.4 696.5 238 C695.6 240.6 694.8 243.4 694.5 244.5" fill="none" stroke="#676975" stroke-width="1.3" stroke-linecap="round" stroke-linejoin="round" transform="translate(-0.5,-0.9)"/>
<path d="M689 181 C689.8 180.7 691.8 179.5 694 179 C696.2 178.5 698.9 178.3 702 178 C705.1 177.7 708.7 177.2 712.5 177.2 C716.3 177.2 720.8 177.7 725 178 C729.2 178.3 733.7 178.9 737.5 179 C741.3 179.1 744.9 179.2 748 178.6 C751.1 178 753.5 176.9 756 175.6 C758.5 174.3 760.8 172.4 763 171 C765.2 169.6 767.3 168.1 769.5 167 C771.7 165.9 774 164.9 776 164.5 C778 164.1 780 163.8 781.5 164.5 C783 165.2 784 166.8 785 168.5 C786 170.2 786.8 172.9 787.5 175 C788.2 177.1 789.2 180 789.5 181" fill="none" stroke="#33343c" stroke-width="5.6" stroke-linecap="round" stroke-linejoin="round"/>
<path d="M689 181 C689.8 180.7 691.8 179.5 694 179 C696.2 178.5 698.9 178.3 702 178 C705.1 177.7 708.7 177.2 712.5 177.2 C716.3 177.2 720.8 177.7 725 178 C729.2 178.3 733.7 178.9 737.5 179 C741.3 179.1 744.9 179.2 748 178.6 C751.1 178 753.5 176.9 756 175.6 C758.5 174.3 760.8 172.4 763 171 C765.2 169.6 767.3 168.1 769.5 167 C771.7 165.9 774 164.9 776 164.5 C778 164.1 780 163.8 781.5 164.5 C783 165.2 784 166.8 785 168.5 C786 170.2 786.8 172.9 787.5 175 C788.2 177.1 789.2 180 789.5 181" fill="none" stroke="#4a4c57" stroke-width="3.1" stroke-linecap="round" stroke-linejoin="round" transform="translate(-0.3,-0.4)"/>
<path d="M689 181 C689.8 180.7 691.8 179.5 694 179 C696.2 178.5 698.9 178.3 702 178 C705.1 177.7 708.7 177.2 712.5 177.2 C716.3 177.2 720.8 177.7 725 178 C729.2 178.3 733.7 178.9 737.5 179 C741.3 179.1 744.9 179.2 748 178.6 C751.1 178 753.5 176.9 756 175.6 C758.5 174.3 760.8 172.4 763 171 C765.2 169.6 767.3 168.1 769.5 167 C771.7 165.9 774 164.9 776 164.5 C778 164.1 780 163.8 781.5 164.5 C783 165.2 784 166.8 785 168.5 C786 170.2 786.8 172.9 787.5 175 C788.2 177.1 789.2 180 789.5 181" fill="none" stroke="#676975" stroke-width="1.3" stroke-linecap="round" stroke-linejoin="round" transform="translate(-0.5,-0.9)"/>
<rect x="754.5" y="167.8" width="8" height="6.5" rx="1" fill="#25262b" transform="rotate(-28 758.5 171)"/>
<path d="M781 163.5 C782.2 162.2 785.6 163.5 787.5 164.5 C789.4 165.5 791.2 167.2 792.5 169.5 C793.8 171.8 794.9 175.2 795.3 178 C795.7 180.8 795.7 183.9 795 186 C794.3 188.1 792.7 190 791 190.5 C789.3 191 786.2 190.8 785 189 C783.8 187.2 784.2 182.8 783.5 180 C782.8 177.2 780.9 174.8 780.5 172 C780.1 169.2 779.8 164.8 781 163.5Z" fill="#2b2c32"/>
<rect x="770.3" y="180.8" width="20" height="15" rx="3.5" fill="#2b2c32" transform="rotate(-22 780.3 188.3)"/>
<path d="M779.3 195.5 l-5 -12.500" stroke="#474851" stroke-width="1.1" fill="none"/>
<path d="M783 194 l-5 -12.500" stroke="#474851" stroke-width="1.1" fill="none"/>
<path d="M786.8 192.5 l-5 -12.500" stroke="#474851" stroke-width="1.1" fill="none"/>
<ellipse cx="771.6" cy="191.800" rx="3" ry="6.200" fill="#1d1e22" transform="rotate(-22 771.6 191.800)"/>
<path d="M786 167.500 Q792 171 792.500 180" stroke="#484952" stroke-width="1.3" fill="none"/>
<path d="M685.5 237 C685 236.2 683.8 234.2 682.5 232.5 C681.2 230.8 679.8 228.5 678 226.5 C676.2 224.5 674.2 222.1 672 220.5 C669.8 218.9 667.5 217.9 665 217 C662.5 216.1 659.8 215.3 657 214.8 C654.2 214.3 650.8 213.9 648 214 C645.2 214.1 643 214.6 640 215.3 C637 216 633.2 217 630 218 C626.8 219 623.4 220.4 621 221.5 C618.6 222.6 616.8 223.5 615.5 224.5 C614.2 225.5 613.4 226.4 613.2 227.5 C613 228.6 613.5 230.1 614.5 231 C615.5 231.9 618.2 232.7 619 233" fill="none" stroke="#54555f" stroke-width="3" stroke-linecap="round" stroke-linejoin="round"/>
<path d="M685.5 237 C685 236.2 683.8 234.2 682.5 232.5 C681.2 230.8 679.8 228.5 678 226.5 C676.2 224.5 674.2 222.1 672 220.5 C669.8 218.9 667.5 217.9 665 217 C662.5 216.1 659.8 215.3 657 214.8 C654.2 214.3 650.8 213.9 648 214 C645.2 214.1 643 214.6 640 215.3 C637 216 633.2 217 630 218 C626.8 219 623.4 220.4 621 221.5 C618.6 222.6 616.8 223.5 615.5 224.5 C614.2 225.5 613.4 226.4 613.2 227.5 C613 228.6 613.5 230.1 614.5 231 C615.5 231.9 618.2 232.7 619 233" fill="none" stroke="#9fa0a9" stroke-width="0.9" stroke-linecap="round" stroke-linejoin="round"/>
<path d="M624 228 L628 224.5 L635 227 L635.5 233 L631.5 235.5 L625 234.5Z" fill="#26272c"/>
<circle cx="621.3" cy="234" r="2" fill="#4a4b53"/>
<circle cx="621.3" cy="234" r="0.8" fill="#c9cad0"/>
</g>
<g id="c5" filter="url(#soft)">
<path d="M481 460 L596.5 525" fill="none" stroke="#4a4b53" stroke-width="1.9" stroke-linecap="round" stroke-linejoin="round"/>
<path d="M481 459.7 L596.5 524.7" fill="none" stroke="#8e8f97" stroke-width="0.6" stroke-linecap="round" stroke-linejoin="round"/>
<path d="M464.6 451.7 L481.6 460.2" fill="none" stroke="#2a2b30" stroke-width="4" stroke-linecap="butt" stroke-linejoin="round"/>
<path d="M466 451.6 L480 458.6" fill="none" stroke="#5a5b64" stroke-width="0.9" stroke-linecap="butt" stroke-linejoin="round"/>
<path d="M596.3 524.3 L608 532" fill="none" stroke="#26272c" stroke-width="5.6" stroke-linecap="butt" stroke-linejoin="round"/>
<path d="M600.500 525.500 L606 529" stroke="#5a5b64" stroke-width="1.1"/>
</g>
<g id="labels" filter="url(#soft2)">
<text x="224.6" y="74" font-family="Liberation Sans, sans-serif" font-weight="bold" font-size="22.3" fill="#000" stroke="#000" stroke-width="0.9" stroke-linejoin="round" text-anchor="middle">3</text>
<path d="M224.5 77 L224.5 102.8" stroke="#0a0a0a" stroke-width="1.7" fill="none"/>
<text x="58.9" y="248.3" font-family="Liberation Sans, sans-serif" font-weight="bold" font-size="22.3" fill="#000" stroke="#000" stroke-width="0.9" stroke-linejoin="round" text-anchor="middle">4</text>
<path d="M66.3 240.6 L98.5 240.6" stroke="#0a0a0a" stroke-width="1.7" fill="none"/>
<text x="26.2" y="411.4" font-family="Liberation Sans, sans-serif" font-weight="bold" font-size="22.3" fill="#000" stroke="#000" stroke-width="0.9" stroke-linejoin="round" text-anchor="middle">1</text>
<path d="M33.1 403.8 L64 403.8" stroke="#0a0a0a" stroke-width="1.7" fill="none"/>
<text x="437.5" y="411.3" font-family="Liberation Sans, sans-serif" font-weight="bold" font-size="22.3" fill="#000" stroke="#000" stroke-width="0.9" stroke-linejoin="round" text-anchor="middle">2</text>
<path d="M437.3 368.5 L437.3 392.8" stroke="#0a0a0a" stroke-width="1.7" fill="none"/>
<text x="540" y="461.5" font-family="Liberation Sans, sans-serif" font-weight="bold" font-size="22.3" fill="#000" stroke="#000" stroke-width="0.9" stroke-linejoin="round" text-anchor="middle">5</text>
<path d="M540 465 L540 491" stroke="#0a0a0a" stroke-width="1.7" fill="none"/>
<text x="538.8" y="74.2" font-family="Liberation Sans, sans-serif" font-weight="bold" font-size="22.3" fill="#000" stroke="#000" stroke-width="0.9" stroke-linejoin="round" text-anchor="middle">6</text>
<path d="M538.8 77 L538.8 96" stroke="#0a0a0a" stroke-width="1.7" fill="none"/>
</g>
<g id="icon">
<rect x="721.500" y="490.5" width="70.5" height="48" fill="#fff" stroke="#4a4a4a" stroke-width="1"/>
<path d="M727.5 506.5 L737.5 512 L767.5 494.5 L787 505.5 L756.5 522.5 L765.5 527.5 L727.5 527.5Z" fill="#fff" stroke="#111" stroke-width="1.1" stroke-linejoin="round"/>
<path d="M727.5 527.5 L765.5 527.5 L765.5 534 L727.5 534Z" fill="#000"/>
<path d="M787 505.5 L787 511 L764 524.5 L756.5 522.5Z" fill="#000"/>
<text x="759.5" y="552.8" font-family="Liberation Sans, sans-serif" font-size="12.6" fill="#333" text-anchor="middle" filter="url(#soft2)">232593</text>
</g>
</svg>
</body></html>
